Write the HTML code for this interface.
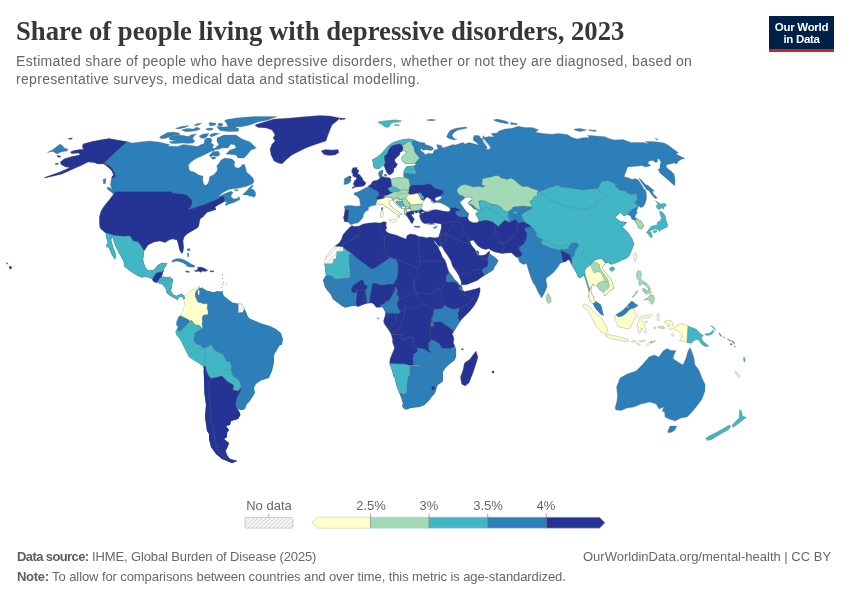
<!DOCTYPE html>
<html><head><meta charset="utf-8"><title>Share of people living with depressive disorders, 2023</title>
<style>
html,body{margin:0;padding:0;background:#fff;}
body{width:850px;height:600px;position:relative;overflow:hidden;font-family:"Liberation Sans",sans-serif;}
#title{position:absolute;left:16px;top:15.3px;font-family:"Liberation Serif",serif;font-weight:bold;font-size:26.7px;line-height:32px;color:#373737;white-space:nowrap;}
#sub{position:absolute;left:16px;top:52.4px;font-size:14px;line-height:18px;color:#666;white-space:nowrap;letter-spacing:0.31px;}
#logo{position:absolute;left:769px;top:16px;width:65px;height:33px;background:#002147;border-bottom:3px solid #ce261e;color:#fff;font-weight:bold;font-size:11.5px;line-height:12px;text-align:center;letter-spacing:-0.3px;}
#logo div{padding-top:5px;}
.ft{position:absolute;font-size:13px;line-height:16px;color:#686868;white-space:nowrap;}
.ft b{font-weight:bold;color:#5e5e5e;}
.lg{position:absolute;font-size:13px;line-height:14px;color:#666;white-space:nowrap;transform:translateX(-50%);}
svg{position:absolute;left:0;top:0;}
#title,#sub,#logo,.ft,.lg{will-change:transform;}
#map path{stroke:#6e6e6e;stroke-opacity:.6;stroke-width:.5;}
#map path.bd{fill:none;stroke-opacity:.55;stroke-width:.5;}
</style></head><body>
<div id="title">Share of people living with depressive disorders, 2023</div>
<div id="sub">Estimated share of people who have depressive disorders, whether or not they are diagnosed, based on<br>representative surveys, medical data and statistical modelling.</div>
<div id="logo"><div>Our World<br>in Data</div></div>
<svg width="850" height="600" viewBox="0 0 850 600">
<defs><pattern id="hatch" width="2.9" height="2.9" patternUnits="userSpaceOnUse" patternTransform="rotate(45)"><rect width="2.9" height="2.9" fill="#fff"/><line x1="0.7" y1="0" x2="0.7" y2="2.9" stroke="#d6d6d6" stroke-width="1.3"/></pattern><pattern id="hatch2" width="4" height="4" patternUnits="userSpaceOnUse" patternTransform="rotate(45)"><rect width="4" height="4" fill="#fff"/><line x1="1" y1="0" x2="1" y2="4" stroke="#e6e6e6" stroke-width="1.7"/></pattern></defs>
<g>
<rect x="245" y="517.5" width="48" height="10.6" rx="1" fill="url(#hatch)" stroke="#cdcdcd" stroke-width="1"/>
<line x1="268.7" y1="514" x2="268.7" y2="517.3" stroke="#888" stroke-width="0.7"/>
<path d="M312,522.7L317.6,517.2H370.5V528.2H317.6Z" fill="#ffffcc"/>
<rect x="370.5" y="517.2" width="58.6" height="11" fill="#a1dab4"/>
<rect x="429.1" y="517.2" width="58.6" height="11" fill="#41b6c4"/>
<rect x="487.7" y="517.2" width="58.6" height="11" fill="#2c7fb8"/>
<path d="M546.3,517.2H599.6L605,522.7L599.6,528.2H546.3Z" fill="#253494"/>
<path d="M312,522.7L317.6,517.2H599.6L605,522.7L599.6,528.2H317.6Z" fill="none" stroke="#bbb" stroke-width="0.5"/>
<g stroke="#6a6a6a" stroke-width="0.55"><line x1="370.5" y1="513.5" x2="370.5" y2="528.2"/><line x1="429.1" y1="513.5" x2="429.1" y2="528.2"/><line x1="487.7" y1="513.5" x2="487.7" y2="528.2"/><line x1="546.3" y1="513.5" x2="546.3" y2="528.2"/></g>
</g>
<g id="map" stroke-linejoin="round"><!-- 10_namerica.py -->
<clipPath id="cna"><path d="M127.0,141.6L132.0,143.0L140.0,142.0L150.0,141.0L153.0,141.6L154.0,141.5L160.0,142.2L165.0,143.5L169.5,144.5L168.0,146.0L172.0,146.2L178.0,146.5L183.0,144.5L188.0,145.0L194.0,146.0L198.0,146.5L200.0,145.0L204.0,143.5L204.5,140.0L206.5,138.0L210.5,138.0L212.0,140.0L211.0,143.0L214.0,145.0L212.5,147.0L214.0,149.0L219.0,144.5L222.0,142.2L226.0,142.5L227.0,144.0L224.0,146.5L220.0,149.0L216.5,149.5L210.0,152.0L206.0,154.0L202.0,156.0L197.0,158.0L193.0,160.5L190.0,163.0L188.5,165.0L189.0,169.0L190.0,171.0L194.0,172.0L199.0,175.0L203.0,176.2L202.8,180.0L203.5,184.0L205.5,185.5L208.0,183.5L209.2,180.0L209.5,176.8L214.0,174.5L217.0,171.0L217.5,168.0L216.5,166.0L218.5,164.0L221.0,160.0L225.0,158.0L232.0,159.0L235.0,162.0L234.0,165.0L235.5,167.5L239.0,168.0L241.5,166.0L242.0,164.5L244.5,164.5L246.0,169.0L246.5,172.0L250.0,175.0L253.0,178.0L254.0,181.0L253.0,183.5L250.0,185.0L246.0,186.5L242.0,187.5L237.0,188.5L233.0,188.8L229.0,189.5L224.0,192.0L220.0,195.0L218.5,196.5L220.0,196.0L225.0,193.5L230.0,191.5L232.0,191.5L233.0,193.0L231.5,194.5L231.0,197.0L234.0,199.0L237.0,198.5L239.0,196.5L240.0,199.5L234.0,202.5L229.0,204.0L226.0,205.5L225.0,204.5L227.0,202.5L224.5,201.5L221.0,203.5L218.0,205.0L215.0,207.0L216.0,209.5L213.0,210.5L210.0,211.5L207.5,212.0L205.0,214.5L203.0,217.0L200.5,218.5L199.5,221.0L199.0,225.0L199.0,225.0L198.0,227.4L192.0,231.0L187.0,234.0L184.0,237.0L183.0,241.0L183.6,247.0L183.0,252.0L181.6,253.4L179.6,250.0L178.0,243.0L177.0,240.0L173.0,239.0L170.0,239.4L165.0,242.6L160.0,241.0L154.0,242.0L148.0,245.0L144.0,251.0L143.0,260.0L145.0,267.0L148.0,270.6L154.0,270.0L158.0,265.0L162.0,263.0L167.0,263.4L167.0,263.0L166.0,266.0L164.0,268.5L163.2,271.5L162.5,274.0L161.5,276.8L165.0,277.0L169.5,277.0L172.5,279.0L173.0,281.0L172.0,284.0L171.5,288.0L170.5,290.0L172.0,293.0L173.5,295.0L176.5,296.0L179.5,294.5L182.0,294.0L184.5,296.0L185.0,298.5L183.5,299.5L182.5,297.0L180.0,296.5L178.5,298.0L177.5,300.0L175.5,298.5L173.5,297.5L172.2,296.8L170.0,295.5L167.5,293.5L166.2,292.0L166.5,290.0L165.0,287.5L163.5,285.5L161.5,284.0L158.5,283.0L156.5,282.5L154.0,282.0L152.5,280.0L152.0,279.0L149.0,277.5L145.0,276.5L142.0,277.5L140.0,276.5L138.0,276.0L130.0,271.0L124.0,266.0L124.0,262.0L119.0,253.0L115.0,245.0L112.4,236.6L111.0,240.0L113.0,247.0L116.0,255.0L115.0,259.4L112.0,255.0L109.0,248.0L106.0,246.0L108.0,242.0L106.0,237.0L106.0,233.4L100.0,228.0L99.6,225.0L99.6,225.0L99.4,217.0L101.0,211.0L105.0,205.0L110.0,199.0L114.4,193.0L112.5,192.0L111.0,191.5L112.0,189.0L110.4,185.0L111.0,181.0L112.0,176.6L113.6,175.0L113.0,174.0L112.0,171.0L109.0,168.0L104.0,164.0L98.0,164.0L94.0,162.6L88.0,162.0L82.0,165.0L72.0,169.4L62.0,174.0L45.0,178.0L44.4,177.4L60.0,172.0L70.0,167.4L66.0,167.0L61.0,164.6L60.4,162.0L64.0,159.0L72.0,156.6L80.0,155.0L79.0,153.0L71.6,153.6L70.4,152.0L74.0,150.6L80.0,149.4L83.6,149.4L82.4,147.0L83.0,144.0L92.0,141.6L100.0,140.0L109.0,138.6L120.0,140.6Z"/></clipPath><g clip-path="url(#cna)"><rect x="0" y="100" width="300" height="260" fill="#2c7fb8"/><path d="M100.0,191.5L171.5,191.5L172.5,193.0L177.0,193.6L183.0,193.9L187.0,195.0L190.0,198.0L192.0,200.0L192.0,204.0L191.0,206.5L188.4,209.4L194.0,208.0L198.0,206.3L203.0,205.0L208.0,203.0L213.0,201.0L218.5,198.5L221.0,196.5L223.6,196.2L224.6,199.0L224.2,201.5L223.3,203.2L225.0,207.0L240.0,215.0L240.0,262.0L160.0,262.0L144.0,251.0L141.0,246.0L138.0,242.0L133.0,241.0L130.0,236.0L124.0,236.6L114.0,235.4L106.0,233.0L96.0,227.0L90.0,215.0Z" fill="#253494" /><path d="M127.0,141.6L104.0,163.0L108.4,165.0L112.4,168.6L114.8,173.0L116.0,176.6L113.2,178.2L96.0,180.0L40.0,180.0L40.0,135.0L128.0,135.0Z" fill="#253494" /><path d="M96.0,227.0L106.0,233.0L114.0,235.4L124.0,236.6L130.0,236.0L133.0,241.0L138.0,242.0L141.0,246.0L144.0,251.0L165.0,256.0L240.0,256.0L240.0,360.0L90.0,360.0L90.0,235.0Z" fill="#41b6c4" /><path d="M155.0,275.0L156.0,273.0L158.5,272.5L160.5,271.5L161.5,272.5L162.5,270.8L164.0,270.5L163.5,274.0L162.2,276.8L160.0,278.0L158.5,280.5L156.5,282.8L154.0,283.0L151.8,280.0L153.5,277.0Z" fill="#253494" /></g><path d="M158.5,283.0L161.5,280.0L165.0,280.0L169.0,277.5M163.5,285.5L167.0,283.0L171.0,280.0L172.8,279.8M166.5,290.0L168.5,290.5L171.5,288.5M172.2,296.8L173.0,295.0L173.5,294.0" fill="none" stroke="#3a6f80" stroke-width="0.35"/><path d="M127.0,141.6L132.0,143.0L140.0,142.0L150.0,141.0L153.0,141.6L154.0,141.5L160.0,142.2L165.0,143.5L169.5,144.5L168.0,146.0L172.0,146.2L178.0,146.5L183.0,144.5L188.0,145.0L194.0,146.0L198.0,146.5L200.0,145.0L204.0,143.5L204.5,140.0L206.5,138.0L210.5,138.0L212.0,140.0L211.0,143.0L214.0,145.0L212.5,147.0L214.0,149.0L219.0,144.5L222.0,142.2L226.0,142.5L227.0,144.0L224.0,146.5L220.0,149.0L216.5,149.5L210.0,152.0L206.0,154.0L202.0,156.0L197.0,158.0L193.0,160.5L190.0,163.0L188.5,165.0L189.0,169.0L190.0,171.0L194.0,172.0L199.0,175.0L203.0,176.2L202.8,180.0L203.5,184.0L205.5,185.5L208.0,183.5L209.2,180.0L209.5,176.8L214.0,174.5L217.0,171.0L217.5,168.0L216.5,166.0L218.5,164.0L221.0,160.0L225.0,158.0L232.0,159.0L235.0,162.0L234.0,165.0L235.5,167.5L239.0,168.0L241.5,166.0L242.0,164.5L244.5,164.5L246.0,169.0L246.5,172.0L250.0,175.0L253.0,178.0L254.0,181.0L253.0,183.5L250.0,185.0L246.0,186.5L242.0,187.5L237.0,188.5L233.0,188.8L229.0,189.5L224.0,192.0L220.0,195.0L218.5,196.5L220.0,196.0L225.0,193.5L230.0,191.5L232.0,191.5L233.0,193.0L231.5,194.5L231.0,197.0L234.0,199.0L237.0,198.5L239.0,196.5L240.0,199.5L234.0,202.5L229.0,204.0L226.0,205.5L225.0,204.5L227.0,202.5L224.5,201.5L221.0,203.5L218.0,205.0L215.0,207.0L216.0,209.5L213.0,210.5L210.0,211.5L207.5,212.0L205.0,214.5L203.0,217.0L200.5,218.5L199.5,221.0L199.0,225.0L199.0,225.0L198.0,227.4L192.0,231.0L187.0,234.0L184.0,237.0L183.0,241.0L183.6,247.0L183.0,252.0L181.6,253.4L179.6,250.0L178.0,243.0L177.0,240.0L173.0,239.0L170.0,239.4L165.0,242.6L160.0,241.0L154.0,242.0L148.0,245.0L144.0,251.0L143.0,260.0L145.0,267.0L148.0,270.6L154.0,270.0L158.0,265.0L162.0,263.0L167.0,263.4L167.0,263.0L166.0,266.0L164.0,268.5L163.2,271.5L162.5,274.0L161.5,276.8L165.0,277.0L169.5,277.0L172.5,279.0L173.0,281.0L172.0,284.0L171.5,288.0L170.5,290.0L172.0,293.0L173.5,295.0L176.5,296.0L179.5,294.5L182.0,294.0L184.5,296.0L185.0,298.5L183.5,299.5L182.5,297.0L180.0,296.5L178.5,298.0L177.5,300.0L175.5,298.5L173.5,297.5L172.2,296.8L170.0,295.5L167.5,293.5L166.2,292.0L166.5,290.0L165.0,287.5L163.5,285.5L161.5,284.0L158.5,283.0L156.5,282.5L154.0,282.0L152.5,280.0L152.0,279.0L149.0,277.5L145.0,276.5L142.0,277.5L140.0,276.5L138.0,276.0L130.0,271.0L124.0,266.0L124.0,262.0L119.0,253.0L115.0,245.0L112.4,236.6L111.0,240.0L113.0,247.0L116.0,255.0L115.0,259.4L112.0,255.0L109.0,248.0L106.0,246.0L108.0,242.0L106.0,237.0L106.0,233.4L100.0,228.0L99.6,225.0L99.6,225.0L99.4,217.0L101.0,211.0L105.0,205.0L110.0,199.0L114.4,193.0L112.5,192.0L111.0,191.5L112.0,189.0L110.4,185.0L111.0,181.0L112.0,176.6L113.6,175.0L113.0,174.0L112.0,171.0L109.0,168.0L104.0,164.0L98.0,164.0L94.0,162.6L88.0,162.0L82.0,165.0L72.0,169.4L62.0,174.0L45.0,178.0L44.4,177.4L60.0,172.0L70.0,167.4L66.0,167.0L61.0,164.6L60.4,162.0L64.0,159.0L72.0,156.6L80.0,155.0L79.0,153.0L71.6,153.6L70.4,152.0L74.0,150.6L80.0,149.4L83.6,149.4L82.4,147.0L83.0,144.0L92.0,141.6L100.0,140.0L109.0,138.6L120.0,140.6Z" fill="none"/>
<!-- 11_naislands.py -->
<path d="M159.5,137.0L163.0,135.0L167.5,132.5L173.5,132.0L179.0,133.0L180.0,134.5L174.0,135.5L169.5,137.0L165.0,138.5L161.0,138.8Z" fill="#2c7fb8"/><path d="M169.0,138.0L171.5,136.0L178.0,135.0L184.0,135.5L188.0,136.5L192.0,134.5L196.5,134.0L194.0,136.0L192.5,139.0L195.0,141.0L193.0,143.0L188.0,143.5L183.0,143.0L177.0,143.5L171.5,143.5L169.0,142.0L176.0,140.5L170.0,140.0Z" fill="#2c7fb8"/><path d="M175.5,128.5L181.0,126.5L189.0,125.5L185.0,127.5L179.0,129.0Z" fill="#2c7fb8"/><path d="M181.5,130.0L187.0,128.5L194.0,129.0L195.5,127.5L198.0,127.5L200.5,129.0L197.0,130.5L190.0,131.5L185.0,131.5Z" fill="#2c7fb8"/><path d="M194.0,125.0L198.0,123.5L201.5,123.3L199.0,125.0L195.5,125.8Z" fill="#2c7fb8"/><path d="M208.5,123.0L211.0,122.5L215.5,123.5L214.0,124.8L210.0,124.2Z" fill="#2c7fb8"/><path d="M205.5,129.0L209.0,128.0L213.5,128.2L212.0,130.0L208.0,130.5Z" fill="#2c7fb8"/><path d="M217.5,124.0L220.5,123.0L222.5,125.0L219.0,125.5Z" fill="#2c7fb8"/><path d="M199.0,136.0L203.0,134.0L209.0,133.5L207.0,136.5L204.0,138.5L201.0,138.0Z" fill="#2c7fb8"/><path d="M209.5,135.0L214.0,133.0L219.5,133.5L215.0,135.5L211.0,137.0Z" fill="#2c7fb8"/><path d="M224.5,121.0L229.0,119.5L235.0,119.5L237.0,125.0L235.0,131.0L228.0,131.5L220.0,130.5L216.5,126.5L222.0,126.5L224.0,128.5L229.0,127.5L227.0,125.0L227.5,123.0Z" fill="#2c7fb8"/><path d="M209.0,155.5L213.5,151.0L216.5,153.0L220.0,155.0L217.0,156.5L213.0,155.5L211.0,157.0Z" fill="#2c7fb8"/><path d="M212.0,158.5L215.5,157.5L215.0,158.5L212.5,159.2Z" fill="#2c7fb8"/><path d="M217.0,138.0L224.0,135.0L236.0,135.0L242.0,139.0L250.0,142.0L256.4,148.0L251.0,150.0L247.0,155.0L244.0,158.0L238.0,158.0L236.0,155.0L226.0,154.0L230.0,150.0L236.0,148.0L235.0,145.0L231.0,144.0L228.0,148.0L222.0,148.0L217.0,142.0Z" fill="#2c7fb8"/><path d="M225.0,120.0L236.0,118.0L254.0,116.4L277.0,116.4L268.0,120.0L258.0,122.0L250.0,125.0L240.0,127.0L230.0,126.0L226.0,123.0Z" fill="#2c7fb8"/><path d="M218.0,127.4L228.0,126.6L239.0,128.6L238.0,131.4L228.0,131.0L220.0,130.0Z" fill="#2c7fb8"/><path d="M209.0,124.0L215.0,123.0L216.0,125.0L210.0,126.0Z" fill="#2c7fb8"/><path d="M218.0,124.0L222.4,123.4L223.0,125.4L219.0,126.0Z" fill="#2c7fb8"/><path d="M213.0,152.0L218.0,151.0L220.0,154.0L215.0,155.0Z" fill="#2c7fb8"/><path d="M211.0,157.4L215.0,156.6L215.6,158.6L212.0,159.0Z" fill="#2c7fb8"/><path d="M242.5,194.5L245.5,192.0L249.0,188.0L252.5,185.0L253.5,185.5L251.0,188.5L254.0,190.0L255.5,192.5L255.5,196.0L253.5,197.5L252.0,196.0L250.0,196.5L247.5,195.0L244.5,195.0Z" fill="#2c7fb8"/><path d="M234.0,189.5L238.5,190.0L238.0,191.0L234.5,190.5Z" fill="#2c7fb8"/><path d="M106.5,188.0L109.0,187.0L112.5,189.5L114.5,192.0L113.5,195.0L112.0,192.5L109.5,191.0Z" fill="#2c7fb8"/><path d="M103.0,179.4L106.0,178.6L105.6,183.4L103.6,184.0Z" fill="#2c7fb8"/><path d="M256.0,124.4L264.0,122.0L274.0,119.0L290.0,118.0L306.0,116.6L320.0,115.4L330.0,116.0L340.0,118.0L337.0,121.0L332.0,125.0L330.0,130.0L328.0,135.0L326.0,141.0L314.0,145.0L306.0,148.0L300.0,151.0L292.0,155.0L286.0,160.0L282.0,164.0L278.0,163.0L274.0,161.0L271.0,155.0L270.0,149.0L272.0,144.0L275.0,141.0L273.0,138.0L275.0,135.0L272.0,130.0L266.0,128.0L258.0,127.4L255.0,125.6Z" fill="#253494"/><path d="M339.5,118.0L345.5,118.3L345.0,119.2L340.0,120.0Z" fill="#253494"/><path d="M321.0,151.0L325.0,149.4L332.0,150.0L338.0,149.4L339.0,152.6L335.0,155.0L329.0,155.6L324.0,154.6Z" fill="#253494"/><path d="M47.4,152.4L53.0,149.4L60.0,144.0L63.0,146.0L64.0,148.0L68.0,149.0L67.0,151.0L61.0,152.0L57.0,154.0L53.0,151.4Z" fill="#2c7fb8"/><path d="M68.0,138.6L72.4,137.8L72.0,139.0L69.0,139.6Z" fill="#253494"/><path d="M55.0,163.4L58.4,163.0L58.0,164.6L55.6,164.6Z" fill="#253494"/><path d="M57.0,155.4L61.0,156.0L60.0,157.4L57.6,157.0Z" fill="#253494"/><path d="M9.0,266.6L11.0,266.0L12.0,268.0L10.0,269.4Z" fill="#253494"/><path d="M5.6,262.6L7.2,263.0L8.4,264.2L7.0,264.0Z" fill="#253494"/><path d="M171.5,261.2L174.0,259.5L177.5,258.5L181.0,258.8L184.5,260.0L188.0,262.0L191.0,264.0L194.8,265.5L194.2,267.3L190.0,267.1L187.3,266.6L186.0,264.7L183.6,263.2L180.0,261.7L176.0,261.1L173.0,262.2Z" fill="#2c7fb8"/><path d="M185.0,271.0L187.5,270.7L189.8,271.5L189.0,272.5L186.0,272.2Z" fill="#2c7fb8"/><path d="M194.0,270.5L197.0,270.0L198.0,268.0L197.0,267.2L201.0,267.0L204.0,268.0L206.5,269.5L208.0,270.5L205.5,271.5L202.0,271.2L200.5,272.5L199.0,271.2L196.0,271.8Z" fill="#253494"/><path d="M210.0,270.8L213.8,270.8L213.8,271.8L210.2,272.0Z" fill="#253494"/><path d="M187.0,253.5L188.5,253.0L189.0,256.5L187.8,256.8Z" fill="#2c7fb8"/><path d="M187.0,249.0L190.0,248.6L190.0,250.6L187.6,251.0Z" fill="#2c7fb8"/>
<!-- 20_samerica.py -->
<clipPath id="csa"><path d="M184.5,296.2L188.5,294.0L190.0,290.5L192.5,289.5L195.0,289.2L197.0,287.5L199.0,286.2L200.0,287.0L199.5,288.5L202.2,287.2L203.0,288.5L205.0,289.2L207.0,290.7L210.0,291.2L213.0,292.2L215.0,291.7L217.0,291.0L221.0,291.5L222.2,290.6L223.8,295.8L228.4,299.6L232.8,302.8L238.0,303.4L241.2,304.4L244.0,308.0L246.0,311.8L247.6,316.0L249.6,318.6L255.0,320.8L260.0,323.0L270.0,326.0L276.0,329.0L281.0,333.0L283.0,339.0L282.0,345.0L280.0,345.0L274.0,355.0L274.0,363.0L272.0,371.0L269.0,378.0L261.0,380.6L256.0,384.0L254.0,388.0L255.0,393.0L250.0,401.0L247.0,404.0L245.0,409.0L242.0,410.0L237.0,409.0L239.0,411.0L240.4,415.0L238.0,419.0L231.0,421.0L230.0,425.0L226.0,426.0L229.0,430.0L227.0,433.0L227.0,437.0L224.0,439.0L229.0,443.0L228.0,446.0L225.6,451.0L227.0,455.0L230.0,459.0L237.0,461.0L232.0,463.0L227.0,461.0L222.0,459.0L216.0,454.0L211.0,447.0L209.0,439.0L209.0,434.0L207.0,431.0L205.0,417.0L206.0,405.0L204.4,393.0L204.0,379.0L203.6,369.0L204.0,370.0L203.5,367.0L200.0,364.0L195.0,361.0L189.0,357.0L186.5,352.0L183.0,345.0L180.0,339.0L176.5,335.0L175.5,331.5L178.0,327.0L176.2,325.0L176.5,322.0L178.5,317.0L181.0,314.5L183.5,310.0L183.6,309.0L184.4,304.0L185.0,300.0L185.0,298.5Z"/></clipPath><g clip-path="url(#csa)"><rect x="170" y="280" width="130" height="200" fill="#2c7fb8"/><path d="M180.0,297.0L188.0,288.0L200.0,284.0L199.8,287.8L199.0,288.0L196.0,291.0L195.0,294.0L195.5,297.0L196.5,299.0L197.0,301.0L198.5,302.5L201.5,303.0L204.0,304.0L207.0,303.5L207.5,305.0L207.0,308.0L207.5,310.0L208.0,310.0L208.0,314.5L203.5,315.0L202.0,318.0L202.5,321.0L202.0,324.0L202.5,327.0L202.0,329.5L201.0,327.0L199.0,325.5L195.0,325.0L193.5,323.0L191.5,320.5L189.5,321.5L189.0,320.0L185.0,318.0L181.0,316.0L175.0,314.0L175.0,306.0Z" fill="#ffffcc" /><path d="M171.0,331.5L177.5,329.5L180.0,331.5L183.5,328.0L186.5,325.0L189.5,321.5L191.5,320.5L193.5,323.0L195.0,325.0L199.0,325.5L201.0,327.0L200.5,330.0L197.0,331.5L194.5,333.5L195.0,336.0L193.5,338.5L194.5,342.0L197.0,344.5L200.5,345.0L202.0,347.5L204.5,348.0L208.0,346.5L212.0,344.5L213.0,348.0L215.0,350.5L219.0,352.5L223.5,354.5L225.0,358.0L226.0,361.0L230.0,362.0L231.5,366.0L232.0,365.0L231.0,370.0L233.0,376.0L238.0,379.0L240.4,383.0L241.0,387.0L238.0,391.0L233.0,390.0L233.6,385.0L228.0,382.0L223.0,377.0L221.6,376.0L218.0,377.0L211.0,378.6L208.0,375.0L205.6,366.6L205.5,366.0L203.5,367.5L195.0,366.0L175.0,340.0Z" fill="#41b6c4" /><path d="M202.0,367.5L205.5,366.0L206.0,370.0L208.0,375.0L211.0,378.6L218.0,377.0L221.6,376.0L223.0,377.0L228.0,382.0L233.6,385.0L233.0,390.0L238.0,391.0L242.4,388.0L237.0,397.4L235.6,404.0L237.0,409.0L254.0,411.0L254.0,469.0L190.0,469.0L190.0,365.0Z" fill="#253494" /></g><path d="M197.7,290.5L198.7,289.5L199.7,292.0L199.2,295.0L198.0,295.0Z" fill="#fff"/><path d="M238.0,303.0L241.4,304.0L244.4,308.0L242.8,312.2L238.0,312.8L238.4,308.0Z" fill="url(#hatch2)" stroke="#bbb" stroke-width="0.3"/><path d="M225.0,456.0L230.0,459.0L237.0,461.0L232.0,463.0L227.0,461.0Z" fill="#253494"/><path d="M211.0,378.6L209.0,385.0L209.0,397.0L211.0,411.0L211.0,421.0L214.0,433.0L216.0,445.0L220.0,454.0L225.0,457.0" fill="none" stroke="#5a62a8" stroke-width="0.4"/><path d="M204.5,348.0L205.0,352.0L205.5,357.0L205.0,362.0L205.5,366.0" fill="none" stroke="#3a8a98" stroke-width="0.4"/><path d="M222.4,371.0L225.0,369.0L231.0,370.0" fill="none" stroke="#3a8a98" stroke-width="0.4"/><path d="M237.0,397.4L246.0,404.0" fill="none" stroke="#2a5a8a" stroke-width="0.4"/><path d="M176.5,322.0L178.5,317.0L181.0,316.0L185.0,318.0L189.0,320.0L189.5,321.5L186.5,325.0L183.5,328.0L180.0,331.5L177.5,329.5" fill="none" stroke="#2a5a8a" stroke-width="0.4"/><path d="M223.8,297.5L221.6,302.8L223.2,305.4L224.3,307.5" fill="none" stroke="#2a5a8a" stroke-width="0.35"/><path d="M207.9,313.9L210.5,317.1L213.7,315.5L216.4,313.4L214.2,311.2L214.8,308.6L219.0,308.1L223.2,307.0L224.3,307.5L224.8,311.8L226.4,314.9L229.6,315.5L232.2,313.9L234.9,312.8L238.1,311.8" fill="none" stroke="#2a5a8a" stroke-width="0.35"/><path d="M229.1,302.8L230.1,305.4L229.1,307.5L231.2,311.8L232.2,313.9" fill="none" stroke="#2a5a8a" stroke-width="0.35"/>
<!-- 30_africa.py -->
<clipPath id="caf"><path d="M343.0,234.5L347.0,230.0L350.0,227.0L352.0,225.5L354.0,226.5L359.0,226.0L363.0,224.0L369.0,223.0L375.0,222.5L380.0,223.0L384.0,221.5L386.5,222.5L386.0,225.5L387.0,228.0L385.5,230.0L387.0,232.0L390.0,233.5L396.0,235.0L401.0,237.0L406.0,239.0L407.0,235.5L410.0,234.0L415.0,234.5L419.0,236.5L425.0,237.0L425.0,238.0L430.0,237.0L434.0,237.8L434.5,241.5L436.0,243.5L438.0,246.0L439.0,249.0L441.0,253.0L442.5,257.0L445.0,260.0L446.5,264.0L447.5,268.0L449.0,272.0L451.5,275.0L454.0,279.0L457.5,282.0L459.5,285.0L461.0,285.0L462.5,288.0L462.0,290.0L464.5,291.5L469.0,290.5L475.0,289.0L480.0,287.5L480.2,291.0L479.0,296.0L477.0,301.0L474.0,306.0L470.0,311.0L466.0,315.0L462.0,319.0L459.0,323.0L456.5,327.0L454.0,331.0L452.0,335.0L453.0,335.0L454.0,339.0L453.5,343.0L455.0,346.5L456.0,351.0L456.0,356.0L454.5,360.0L450.0,363.5L446.0,367.0L442.5,372.0L443.0,377.0L442.5,381.0L442.0,382.0L438.0,384.5L436.5,387.0L436.0,390.0L434.5,393.5L431.0,397.5L428.0,401.5L424.0,405.0L419.0,407.0L414.5,407.2L410.0,408.0L406.5,409.5L404.0,408.5L402.5,406.5L403.0,403.0L401.5,398.0L399.5,393.0L397.0,387.0L395.5,381.0L394.0,375.0L394.0,377.0L392.0,370.0L389.5,363.5L390.0,359.0L392.0,354.0L394.5,348.0L392.5,342.5L392.5,339.0L391.0,334.0L388.0,329.0L385.0,325.0L383.5,322.0L384.0,319.0L385.0,316.0L385.5,312.5L384.0,309.0L382.0,306.8L379.0,307.5L376.0,307.2L374.0,304.5L372.0,303.0L367.0,303.2L363.0,304.5L358.5,306.5L354.0,305.5L349.0,306.5L345.0,307.5L341.5,305.5L337.0,302.0L333.0,299.0L331.0,294.5L328.0,291.0L325.0,287.0L324.5,284.0L323.0,280.5L325.0,277.0L326.0,276.0L325.5,270.0L324.5,263.5L326.0,258.0L329.0,253.0L331.5,249.5L334.5,246.5L339.5,242.5L341.5,239.0Z"/></clipPath><g clip-path="url(#caf)"><rect x="315" y="220" width="175" height="200" fill="#253494"/><path d="M326.0,276.0L330.0,275.5L333.0,277.0L335.5,279.5L338.0,279.0L350.5,278.0L349.0,254.5L352.0,254.0L360.0,260.5L371.5,269.0L375.0,268.0L390.0,257.8L396.0,259.5L397.5,264.0L398.0,272.0L397.0,278.0L394.5,282.0L393.5,284.0L389.0,284.0L384.0,285.0L379.0,284.5L374.5,283.0L372.0,284.0L371.5,290.0L370.0,295.0L369.5,302.5L369.5,309.0L318.0,309.0L318.0,279.0Z" fill="#2c7fb8" /><path d="M351.0,290.0L353.0,285.5L357.5,282.5L361.0,280.0L363.5,280.5L364.5,284.5L367.0,285.5L368.0,287.0L366.0,289.0L365.5,291.5L366.2,295.0L367.0,304.0L363.0,305.0L358.5,307.0L356.0,305.0L356.0,300.0L357.0,295.0L356.5,290.5L356.0,293.0L352.0,292.5Z" fill="#253494" /><path d="M324.5,263.5L332.8,263.2L333.2,259.0L336.0,258.2L336.5,251.5L343.2,251.0L343.2,247.5L352.0,254.0L349.0,254.5L350.5,278.0L338.0,279.0L335.5,279.5L333.0,277.0L330.0,275.5L326.0,276.0L320.0,276.0L320.0,263.5Z" fill="#41b6c4" /><path d="M334.5,247.0L343.0,247.2L343.2,251.0L336.5,251.5L336.0,258.2L333.2,259.0L332.8,263.2L324.5,263.4L320.0,263.4L320.0,255.0L330.0,245.0Z" fill="url(#hatch2)" /><path d="M395.5,287.0L397.0,289.5L397.5,293.0L396.0,293.5L398.0,296.5L399.0,299.5L397.0,303.0L397.5,307.0L400.0,311.0L399.0,313.5L394.0,313.0L385.5,312.8L383.0,312.5L380.0,309.0L380.0,305.0L383.0,304.5L386.0,301.5L389.0,300.5L392.0,296.0L394.5,291.0Z" fill="#2c7fb8" /><path d="M446.0,277.0L447.5,274.0L450.0,272.3L454.0,273.0L466.0,286.0L461.0,285.0L459.5,285.5L456.0,282.5L452.0,281.2L449.0,282.0L446.5,281.7Z" fill="#2c7fb8" /><path d="M459.0,287.5L461.0,286.0L465.0,287.0L464.5,291.5L461.8,290.2L459.5,290.0Z" fill="#2c7fb8" /><path d="M434.0,309.5L438.0,309.0L442.2,308.5L444.5,305.0L448.0,307.5L454.0,309.5L457.0,308.5L459.5,308.5L458.0,313.0L458.2,319.0L461.0,322.0L459.0,327.0L455.0,333.0L453.5,331.0L450.0,328.0L445.0,324.5L441.5,321.5L441.0,321.5L435.0,322.0L431.5,322.5L431.8,319.0L433.5,315.0Z" fill="#2c7fb8" /><path d="M430.5,323.0L433.0,322.8L433.5,325.5L431.2,326.5Z" fill="#2c7fb8" /><path d="M417.5,348.0L424.0,349.0L428.0,351.5L430.5,353.0L431.0,351.5L429.0,350.5L428.5,343.0L431.0,340.5L434.0,340.5L439.0,343.5L442.0,348.5L450.0,348.5L455.5,346.5L470.0,346.5L470.0,435.0L390.0,435.0L399.5,393.5L401.5,394.5L405.0,394.8L407.0,392.8L407.0,388.0L407.5,381.0L408.0,375.0L408.0,377.0L410.0,375.0L410.0,366.5L414.5,366.2L419.0,366.2L420.0,365.0L415.0,364.8L413.5,365.0L413.0,360.0L413.5,354.0L417.5,352.0Z" fill="#2c7fb8" /><path d="M389.5,363.5L405.0,364.0L410.0,365.5L415.0,364.8L420.0,365.0L419.0,366.2L414.5,366.2L410.0,366.5L410.0,375.0L408.0,377.0L407.5,385.0L407.5,381.0L407.0,388.0L407.0,392.5L405.0,394.5L401.5,394.0L399.5,393.0L390.0,393.0L390.0,375.0L380.0,375.0L380.0,363.5Z" fill="#41b6c4" /><path d="M431.5,387.5L433.0,386.2L434.8,387.0L434.8,389.5L433.0,390.2L431.7,389.2Z" fill="#253494" /></g><path d="M476.0,351.0L478.0,357.0L476.0,364.0L473.0,373.0L469.0,383.0L465.0,386.0L461.6,384.0L460.4,377.0L463.0,370.0L464.4,363.0L470.0,359.0L473.6,354.0Z" fill="#253494" /><path d="M492.0,371.0L494.0,371.0L494.0,373.0L492.0,373.0Z" fill="#253494" /><path d="M461.6,348.6L463.2,348.6L463.2,350.0L461.6,350.0Z" fill="#253494" /><path d="M377.5,317.8L379.0,317.8L379.0,319.0L377.5,319.0Z" fill="#41b6c4" /><path d="M343.0,234.5L347.0,230.0L350.0,227.0L352.0,225.5L354.0,226.5L359.0,226.0L363.0,224.0L369.0,223.0L375.0,222.5L380.0,223.0L384.0,221.5L386.5,222.5L386.0,225.5L387.0,228.0L385.5,230.0L387.0,232.0L390.0,233.5L396.0,235.0L401.0,237.0L406.0,239.0L407.0,235.5L410.0,234.0L415.0,234.5L419.0,236.5L425.0,237.0L425.0,238.0L430.0,237.0L434.0,237.8L434.5,241.5L436.0,243.5L438.0,246.0L439.0,249.0L441.0,253.0L442.5,257.0L445.0,260.0L446.5,264.0L447.5,268.0L449.0,272.0L451.5,275.0L454.0,279.0L457.5,282.0L459.5,285.0L461.0,285.0L462.5,288.0L462.0,290.0L464.5,291.5L469.0,290.5L475.0,289.0L480.0,287.5L480.2,291.0L479.0,296.0L477.0,301.0L474.0,306.0L470.0,311.0L466.0,315.0L462.0,319.0L459.0,323.0L456.5,327.0L454.0,331.0L452.0,335.0L453.0,335.0L454.0,339.0L453.5,343.0L455.0,346.5L456.0,351.0L456.0,356.0L454.5,360.0L450.0,363.5L446.0,367.0L442.5,372.0L443.0,377.0L442.5,381.0L442.0,382.0L438.0,384.5L436.5,387.0L436.0,390.0L434.5,393.5L431.0,397.5L428.0,401.5L424.0,405.0L419.0,407.0L414.5,407.2L410.0,408.0L406.5,409.5L404.0,408.5L402.5,406.5L403.0,403.0L401.5,398.0L399.5,393.0L397.0,387.0L395.5,381.0L394.0,375.0L394.0,377.0L392.0,370.0L389.5,363.5L390.0,359.0L392.0,354.0L394.5,348.0L392.5,342.5L392.5,339.0L391.0,334.0L388.0,329.0L385.0,325.0L383.5,322.0L384.0,319.0L385.0,316.0L385.5,312.5L384.0,309.0L382.0,306.8L379.0,307.5L376.0,307.2L374.0,304.5L372.0,303.0L367.0,303.2L363.0,304.5L358.5,306.5L354.0,305.5L349.0,306.5L345.0,307.5L341.5,305.5L337.0,302.0L333.0,299.0L331.0,294.5L328.0,291.0L325.0,287.0L324.5,284.0L323.0,280.5L325.0,277.0L326.0,276.0L325.5,270.0L324.5,263.5L326.0,258.0L329.0,253.0L331.5,249.5L334.5,246.5L339.5,242.5L341.5,239.0Z" fill="none"/><g clip-path="url(#caf)"><path class="bd" d="M359.0,226.0L359.5,229.0L360.5,232.5L359.5,234.5L355.0,237.5L353.0,240.0"/><path class="bd" d="M343.0,247.0L343.5,243.5L350.0,241.0L355.0,236.5L357.0,235.0"/><path class="bd" d="M381.0,225.0L379.5,230.0L382.0,234.0L384.5,237.5L384.5,243.0L384.0,251.0L386.0,255.0L390.0,257.5"/><path class="bd" d="M384.5,237.5L386.5,234.5L388.5,232.8"/><path class="bd" d="M390.0,257.5L396.5,259.2L417.0,267.5L420.0,267.0"/><path class="bd" d="M418.0,237.0L419.0,245.0L419.5,255.0L419.8,261.0L420.0,267.0"/><path class="bd" d="M419.8,261.2L445.5,261.2"/><path class="bd" d="M396.5,259.5L398.5,265.0L398.0,272.0L395.0,278.0L394.5,282.0L396.5,285.0"/><path class="bd" d="M417.0,267.5L418.0,272.0L417.0,278.0L414.0,279.5L413.5,285.0"/><path class="bd" d="M414.0,280.0L413.5,285.0L415.5,289.5L414.0,290.5L411.0,294.0L407.0,295.5L403.0,298.0L398.5,299.0"/><path class="bd" d="M396.5,287.5L398.0,292.5L398.5,299.0L397.0,303.0L397.5,307.0L400.0,311.0L399.5,313.5"/><path class="bd" d="M415.5,289.5L416.5,295.0L419.5,293.0L422.0,292.0L425.0,294.0L429.0,294.5L433.0,292.5L436.0,290.0L437.0,287.5L439.0,288.0L440.0,292.0L443.0,287.0L445.5,282.0L446.0,280.0"/><path class="bd" d="M416.5,295.0L420.0,299.0L423.0,302.5L425.5,305.0L422.0,305.0L418.0,306.5L414.0,308.5L411.0,307.5L407.5,306.2L405.5,307.0L405.0,309.5L402.0,310.0L400.0,311.0"/><path class="bd" d="M425.5,305.0L427.5,307.0L432.0,307.5L434.0,309.5L442.0,309.0L444.5,304.8"/><path class="bd" d="M440.0,292.0L441.0,296.0L439.0,298.5L442.0,302.0L444.5,304.5"/><path class="bd" d="M385.0,313.5L393.0,313.2L399.5,313.5"/><path class="bd" d="M385.0,316.5L389.0,316.5L389.0,313.5"/><path class="bd" d="M393.0,313.5L395.0,315.0L396.0,320.0L396.5,323.0L394.5,325.5L391.5,324.5L389.5,327.0L389.0,329.0L391.5,331.5"/><path class="bd" d="M405.0,309.5L404.5,314.0L403.5,319.0L401.0,323.0L399.5,327.0L398.0,330.5L395.5,332.0L391.5,332.0"/><path class="bd" d="M391.5,334.5L400.0,334.5L402.0,338.0L403.0,340.0L406.0,338.5L409.0,337.0L413.0,339.0"/><path class="bd" d="M434.0,309.5L433.0,314.0L431.5,318.5L431.0,322.5L430.0,327.0L430.5,332.0L430.0,336.0L431.5,340.0"/><path class="bd" d="M442.0,309.0L443.5,312.0L443.0,316.0L441.5,319.5L441.2,321.5L431.2,322.0"/><path class="bd" d="M441.2,321.5L446.0,324.5L450.0,327.5L452.5,331.0"/><path class="bd" d="M430.5,323.2L434.0,323.0L434.0,327.0L431.5,330.0"/><path class="bd" d="M430.5,326.5L434.0,326.8"/><path class="bd" d="M459.5,308.5L462.0,307.0L466.0,305.0L470.0,302.0L473.0,298.5L469.0,296.5L464.0,294.5L461.5,291.5L461.8,290.2"/><path class="bd" d="M371.5,269.0L372.0,274.5L370.0,278.0L364.0,279.5"/><path class="bd" d="M336.0,280.0L336.0,284.0L337.5,287.0L341.0,286.5L343.5,289.0L345.0,292.5"/><path class="bd" d="M345.0,292.5L350.0,292.0L351.0,290.0"/><path class="bd" d="M325.0,287.0L330.0,286.0L335.0,287.0L336.0,284.0"/><path class="bd" d="M328.0,291.0L332.0,290.0L335.0,292.0L338.0,296.5L337.0,302.0"/><path class="bd" d="M333.0,299.0L335.0,295.5L338.0,296.5L341.5,294.0L345.0,292.5"/><path class="bd" d="M341.5,305.5L343.0,300.0L341.5,297.5L338.0,296.5"/><path class="bd" d="M324.5,284.0L329.0,283.5L333.0,282.0"/><path class="bd" d="M325.0,285.5L329.5,285.0"/><path class="bd" d="M364.0,290.5L364.5,294.0L364.0,298.5L364.5,302.5"/><path class="bd" d="M356.5,290.5L364.0,290.5"/><path class="bd" d="M392.0,334.2L400.5,334.5L402.5,339.0L405.0,339.5L409.0,337.0L413.0,338.0L413.5,347.0L417.5,348.0"/><path class="bd" d="M420.0,365.0L424.0,365.0L427.0,362.0L430.0,360.0L433.0,357.0L437.5,355.5L439.0,353.0L440.0,348.0L439.0,343.5"/><path class="bd" d="M441.5,345.0L442.0,349.0L442.5,353.0L444.5,356.0L444.0,361.0L442.0,362.5L441.0,359.0L439.0,356.0L440.0,352.0"/><path class="bd" d="M433.0,357.0L436.0,358.0L438.0,362.0L437.5,368.0L436.0,372.0L433.5,376.0L433.0,377.0"/><path class="bd" d="M420.0,365.0L421.0,369.0L424.0,372.0L427.0,375.5L430.0,377.0L433.0,377.0"/><path class="bd" d="M409.0,389.5L413.0,387.0L415.5,385.0L419.0,386.0L422.0,383.0L425.0,379.0L429.0,376.5L433.0,377.0L434.0,381.0L434.5,386.0"/><path class="bd" d="M423.0,396.5L426.0,393.5L428.5,395.5L425.5,399.0Z"/></g><path d="M334.5,246.4L343.0,247.1L343.2,251.0L336.5,251.5L336.0,258.2L333.2,259.0L332.8,263.3L324.4,263.6L325.9,258.0L328.9,253.0L331.4,249.5Z" fill="url(#hatch2)" style="stroke:#ccc;stroke-opacity:.8"/>
<!-- 40_eurasia.py -->
<clipPath id="cea"><path d="M397.0,141.0L403.0,139.5L409.0,138.8L414.0,139.8L419.0,142.0L425.0,143.0L425.0,144.5L429.0,145.5L433.0,147.5L433.5,149.5L431.0,150.5L427.0,150.0L425.0,149.7L423.0,148.5L421.0,148.5L420.5,150.0L422.0,151.5L424.5,153.2L425.0,155.0L428.0,153.2L432.5,153.7L433.5,152.0L434.5,150.0L438.0,149.0L436.5,144.5L441.5,145.5L442.5,148.0L446.0,147.0L453.0,144.5L455.0,145.0L463.0,142.5L465.0,144.0L469.0,142.5L475.0,144.0L479.0,145.0L477.0,143.0L473.0,140.0L474.0,135.5L479.0,135.5L481.0,138.5L482.5,138.5L485.0,141.0L487.5,144.5L490.0,146.5L489.0,149.0L486.5,149.5L487.5,147.0L485.0,143.5L483.0,140.0L483.0,135.5L485.0,137.5L489.0,136.5L494.0,137.0L491.0,133.5L497.0,133.0L499.0,131.0L505.0,129.0L505.0,129.1L512.1,128.3L517.9,126.2L525.0,127.4L532.1,127.4L538.5,129.7L535.6,132.3L542.6,133.5L552.1,134.2L557.9,133.5L567.4,134.6L572.1,137.4L577.4,139.1L582.6,137.7L589.7,137.4L587.4,135.4L590.9,135.4L605.0,136.8L610.0,139.0L615.0,140.0L623.0,139.5L627.0,141.0L631.0,142.5L638.0,142.5L644.0,142.5L648.5,144.0L645.5,141.5L652.0,141.5L658.0,142.0L664.0,143.0L668.0,145.0L672.0,148.0L676.0,151.0L678.5,152.5L676.0,154.0L679.0,155.5L683.0,157.5L685.0,158.5L681.0,159.5L678.0,161.5L677.0,164.0L674.0,163.0L670.0,164.0L666.0,165.0L667.0,168.0L671.0,171.0L674.0,174.0L675.0,179.0L675.0,183.0L674.8,186.0L672.0,183.5L668.0,180.0L664.0,176.5L660.0,173.0L658.0,169.5L660.0,168.5L660.0,165.0L661.0,162.0L659.0,159.0L657.5,159.0L657.5,162.0L655.5,162.5L653.0,160.5L649.0,161.0L648.0,163.5L651.0,165.5L648.0,166.5L645.0,167.0L642.0,165.5L639.0,166.0L633.0,166.5L627.5,167.0L626.0,172.0L624.0,176.5L629.0,178.0L632.0,179.5L635.0,178.5L638.5,180.0L641.0,184.0L643.0,187.0L644.5,190.0L645.0,189.0L646.5,194.0L646.5,199.0L645.0,204.0L643.0,207.0L640.5,207.5L638.5,206.0L637.5,208.5L636.5,211.5L637.5,212.5L635.5,215.0L635.0,217.5L637.5,219.0L641.0,221.0L643.0,224.0L643.8,226.5L642.0,228.5L639.5,229.0L637.8,226.5L636.5,223.5L635.5,222.0L634.5,220.0L632.0,219.5L630.5,216.0L627.5,214.5L624.0,216.0L620.5,212.5L615.0,217.5L620.5,221.5L627.0,222.2L622.5,227.0L628.0,232.5L632.5,239.5L634.0,245.0L634.0,244.0L632.5,248.0L631.0,252.0L629.0,256.0L626.0,258.5L622.0,260.0L619.0,261.5L616.0,263.0L614.0,263.5L612.5,263.0L612.0,265.0L610.5,264.0L608.0,262.5L605.5,263.2L603.5,265.5L602.0,267.5L603.5,270.0L606.0,273.0L609.0,276.5L611.5,280.0L613.0,284.0L613.5,288.5L610.0,291.0L606.5,294.5L604.5,296.0L604.0,293.0L603.0,291.5L600.0,290.0L598.0,287.5L597.5,286.5L595.0,285.5L593.0,284.0L591.5,287.0L591.0,290.0L591.5,293.0L593.5,296.0L594.0,300.0L597.0,302.0L601.0,305.0L602.4,311.0L603.6,315.4L601.0,314.6L596.0,309.0L593.0,304.0L589.5,300.0L588.5,297.0L589.0,293.0L589.0,292.0L588.0,288.0L586.5,283.0L585.0,278.0L584.0,275.5L583.0,276.0L580.0,278.0L578.0,277.0L576.0,272.0L573.5,268.0L571.5,264.0L571.5,264.5L570.0,261.0L568.0,259.5L566.0,261.5L564.0,262.0L560.0,263.5L558.0,267.0L554.0,272.0L550.0,275.5L546.5,278.0L546.0,280.0L547.0,285.0L547.0,287.0L544.0,294.0L541.6,298.0L538.0,292.0L533.0,281.0L534.0,285.0L531.0,278.0L529.0,272.0L527.5,267.0L526.5,263.5L524.0,264.5L521.5,263.5L519.0,261.5L518.5,258.5L516.0,257.0L514.0,255.0L511.5,252.8L505.0,253.0L500.0,253.5L507.0,253.0L501.0,253.2L495.0,252.0L490.5,250.0L489.0,248.5L486.0,249.5L482.0,248.5L478.0,246.0L475.0,242.5L473.5,240.0L470.0,241.0L470.5,243.5L472.5,246.5L475.0,249.5L476.2,251.8L476.5,251.2L478.0,250.8L479.0,253.5L477.8,255.2L479.5,255.2L482.0,255.5L486.0,254.5L488.0,252.0L489.5,251.2L490.0,254.0L491.0,255.0L494.5,257.0L498.0,260.5L496.5,264.0L494.5,266.5L493.0,270.0L489.0,272.5L485.0,275.0L482.0,277.0L477.0,280.5L472.0,282.5L467.0,284.5L461.5,285.0L461.0,281.0L459.0,276.0L456.0,271.0L452.5,266.0L451.0,261.0L448.0,256.0L444.5,251.0L441.5,246.0L440.0,242.0L439.0,239.0L438.5,237.5L440.0,233.0L441.0,229.0L441.5,225.0L441.0,224.0L439.0,223.5L435.0,223.0L431.0,224.0L428.0,223.0L425.0,223.5L435.0,224.5L430.6,224.2L427.0,223.9L424.0,223.3L421.9,221.8L421.0,220.0L420.1,218.2L419.5,215.8L420.7,213.7L419.5,213.4L418.6,211.9L418.6,210.5L416.8,210.7L418.3,211.9L416.8,213.1L415.0,212.2L413.2,212.5L414.1,213.7L413.2,214.6L411.7,213.7L411.4,214.9L412.6,216.7L414.1,218.8L414.4,220.0L413.2,220.9L412.9,222.7L412.0,223.6L410.8,222.4L409.9,220.6L408.7,218.8L407.5,217.0L406.6,215.8L406.0,214.6L405.1,215.2L404.2,213.1L404.1,211.0L403.9,208.9L402.4,208.3L402.1,208.6L400.6,208.0L397.9,205.9L395.5,203.5L394.0,201.7L393.4,200.2L391.3,200.1L391.0,199.9L389.8,200.8L388.6,202.0L389.8,204.4L392.2,207.4L395.2,209.8L398.2,211.6L401.2,213.4L402.4,214.6L400.9,214.9L399.7,214.0L399.1,215.2L399.7,217.0L398.5,218.2L397.6,217.3L397.9,215.8L396.4,214.0L393.4,212.2L390.4,209.8L387.4,207.4L385.0,206.5L382.5,204.0L379.5,204.5L378.0,203.5L376.5,205.0L373.0,205.5L370.0,206.5L368.0,208.0L369.0,209.5L365.0,212.0L363.5,214.5L363.0,217.5L361.0,220.0L358.0,223.0L354.0,223.5L351.0,225.0L349.0,223.0L347.5,222.0L344.5,221.5L343.5,217.5L344.5,214.0L345.0,209.5L344.0,206.5L347.0,205.5L351.0,205.5L356.0,206.2L360.5,205.8L360.0,202.5L359.5,199.0L357.0,196.0L354.5,195.0L354.0,193.0L357.5,192.0L361.5,190.0L366.0,187.5L369.0,186.5L367.6,186.4L369.7,185.2L371.2,184.0L372.1,181.9L373.6,181.0L376.0,180.4L378.4,179.8L379.6,178.6L379.9,177.4L379.0,176.2L378.4,173.8L379.0,171.7L380.8,170.8L382.7,169.8L383.1,171.1L382.8,172.9L382.4,174.4L382.1,175.7L381.9,177.0L383.2,176.5L385.0,177.4L387.4,177.4L390.0,178.0L391.0,179.5L395.0,178.0L400.0,177.5L404.0,178.0L403.5,174.5L404.0,170.5L406.5,166.5L414.0,165.7L416.2,164.5L414.5,163.3L409.0,164.0L405.0,163.5L402.5,161.5L401.5,158.5L402.5,156.0L405.0,154.0L406.5,152.0L404.5,151.0L402.5,151.0L400.0,152.5L399.5,155.0L396.5,157.5L394.5,160.0L395.5,162.5L397.5,164.0L396.0,167.0L394.0,168.5L393.5,172.0L391.5,174.0L389.0,175.0L386.5,172.0L385.0,168.5L384.0,165.5L381.5,166.5L379.5,168.5L376.0,168.8L373.5,167.0L372.5,159.5L376.5,157.5L381.0,154.0L385.0,149.5L388.0,146.0L392.0,143.0Z"/></clipPath><g clip-path="url(#cea)"><rect x="330" y="100" width="370" height="230" fill="#2c7fb8"/><path d="M418.0,213.0L423.0,210.0L425.0,212.0L429.0,211.5L433.0,209.8L437.0,209.5L443.0,211.0L448.5,211.5L449.5,208.0L455.0,207.5L459.5,209.5L460.5,211.0L457.0,211.0L455.5,212.0L456.0,214.0L458.0,216.0L461.0,217.0L463.5,217.0L466.0,216.5L468.0,218.0L469.5,221.0L473.0,222.5L477.0,222.5L479.0,221.0L481.0,221.0L485.0,220.0L489.0,220.5L493.0,222.0L496.0,224.5L499.0,226.5L498.0,226.5L500.0,224.5L502.5,222.0L505.0,220.0L509.5,222.5L511.5,221.0L513.5,220.5L515.0,219.0L517.0,221.5L519.0,223.0L522.0,222.0L524.5,222.0L528.0,224.0L531.0,226.0L529.5,227.0L526.0,227.5L524.5,229.0L527.0,233.5L526.5,239.0L524.0,244.0L520.0,246.5L518.5,249.0L520.5,251.0L522.5,255.0L519.0,257.0L516.0,257.0L516.0,300.0L416.0,300.0L416.0,226.0Z" fill="#253494" /><path d="M489.0,254.0L491.0,255.0L495.0,256.0L501.0,260.0L496.5,265.0L493.0,271.0L487.0,276.0L483.5,274.0L482.0,270.0L485.0,268.0L487.5,266.5L488.5,262.0L487.5,259.0L488.5,256.0Z" fill="#2c7fb8" /><path d="M489.0,250.0L490.2,250.0L490.5,254.0L489.0,254.0Z" fill="#2c7fb8" /><path d="M476.0,251.8L476.5,251.0L478.2,250.6L479.2,253.5L477.8,255.4L476.4,253.8Z" fill="#2c7fb8" /><path d="M478.5,202.0L481.0,201.0L485.0,200.5L489.0,203.0L493.0,205.0L498.0,204.5L501.5,207.5L503.0,210.0L506.5,211.5L508.0,212.5L509.5,214.0L507.5,216.0L509.0,218.0L509.5,221.0L509.0,221.5L505.0,220.0L502.5,222.0L500.0,224.5L498.0,226.5L499.0,226.5L496.0,224.5L493.0,222.0L489.0,220.5L485.0,220.0L481.0,221.0L479.0,221.0L477.5,217.5L476.0,215.0L475.5,213.0L478.0,212.5L477.5,211.0L476.0,209.8L477.0,209.0L480.5,210.0L479.5,206.0Z" fill="#41b6c4" /><path d="M539.5,191.0L537.5,192.5L537.0,195.0L535.0,196.0L532.5,197.0L532.0,200.5L529.0,202.0L531.0,204.0L532.0,206.5L531.5,208.5L529.0,210.0L525.0,212.0L523.0,213.5L521.0,215.0L522.5,218.0L524.0,220.5L524.5,222.0L528.0,224.0L531.0,226.0L533.0,228.0L535.0,231.0L537.0,234.0L536.0,236.0L539.0,238.0L542.5,239.5L541.0,242.0L541.5,244.0L546.0,246.0L552.0,248.5L559.0,250.0L560.5,250.2L561.2,249.0L565.0,249.3L569.0,248.5L569.0,246.5L571.0,243.5L574.0,242.5L577.0,243.0L579.0,245.0L577.0,248.0L575.0,251.0L574.5,255.0L572.0,258.0L571.5,264.5L570.0,267.0L570.0,270.0L576.0,282.0L580.0,282.0L587.0,294.0L590.0,289.0L589.5,288.0L588.0,284.0L586.5,279.0L585.0,274.0L585.0,270.0L587.5,267.0L590.5,265.0L592.5,262.5L594.0,260.5L597.0,259.5L600.5,258.5L603.0,260.0L604.5,262.0L605.5,263.2L612.0,268.0L640.0,260.0L640.0,230.0L625.0,227.0L624.0,217.0L627.5,214.5L630.0,211.5L633.0,209.0L636.0,207.5L638.5,206.0L636.0,204.5L634.5,202.0L637.5,200.0L637.0,196.0L635.5,193.0L633.0,194.5L629.0,194.0L625.0,191.0L620.0,190.0L617.5,188.0L614.5,185.0L618.0,185.0L608.0,180.6L601.0,182.0L598.0,188.6L590.0,189.0L582.0,190.0L570.0,188.0L561.0,187.0L558.0,185.0L548.0,188.0L540.0,191.4Z" fill="#41b6c4" /><path d="M560.6,250.2L564.5,252.0L569.7,254.6L570.7,257.2L571.4,261.0L572.2,264.5L570.5,265.0L569.2,259.8L568.0,259.8L566.0,263.0L563.4,263.0L562.0,257.0Z" fill="#253494" /><path d="M457.0,190.0L458.0,188.0L461.0,185.5L465.0,184.5L469.0,185.5L473.0,187.0L478.0,186.5L483.0,187.0L485.0,186.2L481.5,184.5L482.5,181.5L482.0,179.0L486.0,178.0L491.0,177.0L496.0,175.5L499.0,176.0L501.0,178.0L504.0,178.5L507.0,179.5L511.0,178.0L515.0,180.5L519.0,184.0L522.0,186.5L528.0,186.5L531.0,188.0L535.0,189.5L538.5,190.5L537.0,193.0L537.5,196.0L534.0,196.5L532.5,199.5L529.5,202.0L531.5,204.0L532.0,207.0L528.0,206.5L523.0,206.0L518.0,206.5L513.0,207.0L512.0,209.0L510.0,210.0L508.0,212.0L506.5,211.5L503.0,210.0L501.5,207.5L498.0,205.0L493.0,204.5L490.0,203.5L485.0,201.0L481.0,200.5L478.5,201.5L479.5,205.5L480.5,210.0L477.0,209.0L475.0,207.5L473.5,205.5L470.0,204.0L468.0,203.0L471.5,200.5L472.0,198.0L469.0,197.0L465.0,198.0L463.0,196.0L460.0,195.0L457.5,192.5Z" fill="#a1dab4" /><path d="M513.0,211.8L517.0,211.5L517.2,213.5L513.2,213.8Z" fill="#41b6c4" /><path d="M634.5,220.0L637.5,219.0L642.0,220.0L645.0,224.0L645.0,229.0L639.5,230.0L637.8,226.5L636.5,223.5L635.5,222.0Z" fill="#a1dab4" /><path d="M585.0,270.0L587.5,267.0L590.5,265.0L592.5,262.5L594.0,260.5L597.0,259.5L600.5,258.5L603.0,260.0L604.5,262.0L605.5,263.2L620.0,265.0L620.0,305.0L585.0,305.0L589.0,292.0L590.0,289.0L589.5,288.0L588.0,284.0L586.5,279.0L585.0,274.0Z" fill="#ffffcc" /><path d="M590.5,265.0L592.5,262.5L594.0,260.5L595.0,262.5L597.5,263.0L600.0,265.0L599.5,267.5L601.0,270.0L604.0,274.0L607.0,278.0L608.5,281.0L608.2,282.8L605.2,282.5L603.5,278.5L602.0,274.5L600.0,272.0L597.0,272.0L594.0,273.0L592.5,270.0L591.5,267.5Z" fill="#a1dab4" /><path d="M597.5,284.0L599.5,282.0L603.0,281.0L605.5,281.5L608.0,282.0L609.5,285.5L608.5,288.0L606.5,290.0L603.0,292.0L600.0,290.5L597.5,288.0Z" fill="#a1dab4" /><path d="M593.0,303.4L595.0,302.2L599.0,301.0L604.0,305.0L605.0,317.0L600.0,317.0L595.0,309.0Z" fill="#2c7fb8" /><path d="M408.1,195.1L410.2,194.5L413.2,194.2L416.2,193.6L417.7,193.3L419.5,192.7L421.0,193.6L422.8,196.0L424.0,197.8L423.4,198.7L423.4,202.0L427.0,197.2L430.6,199.0L428.0,197.8L430.5,199.0L432.5,203.0L436.0,202.5L435.0,199.0L436.0,197.5L439.5,196.5L442.0,196.0L441.0,195.0L443.5,193.5L443.5,190.5L440.0,189.5L435.0,188.0L431.0,184.5L425.0,183.5L425.0,185.0L410.0,185.0L409.0,188.0L409.0,190.8Z" fill="#253494" /><path d="M366.4,185.8L370.0,184.0L372.4,180.4L379.6,178.0L381.4,176.2L385.0,176.8L390.4,177.4L391.0,180.0L392.0,186.2L388.0,188.5L390.0,191.5L393.0,192.5L388.0,195.0L384.0,196.0L384.0,196.5L383.0,198.5L380.0,199.0L377.5,199.5L376.0,197.5L378.5,195.5L378.5,192.5L377.0,191.0L375.5,190.5L373.0,189.0L369.0,186.5Z" fill="#253494" /><path d="M390.5,179.0L395.0,177.0L400.0,176.5L404.0,177.0L409.0,179.2L409.5,182.0L410.0,184.5L411.0,187.5L410.5,185.0L409.0,188.0L409.0,190.5L405.0,189.8L400.5,190.3L396.0,187.8L392.0,186.2L391.0,180.0Z" fill="#a1dab4" /><path d="M388.0,188.5L392.0,186.2L396.0,187.8L400.5,190.3L398.0,192.0L395.5,191.5L393.0,192.5L390.0,191.5Z" fill="#41b6c4" /><path d="M384.0,196.0L388.0,195.0L393.0,192.5L395.5,191.5L398.0,192.0L400.5,190.3L405.0,189.8L409.0,190.8L408.0,193.0L410.0,194.5L408.0,197.0L405.0,199.0L401.0,199.7L398.0,198.2L396.0,199.5L393.0,200.5L392.0,198.2L390.0,197.5L386.0,197.0L384.0,196.5Z" fill="#a1dab4" /><path d="M377.5,199.7L380.0,199.2L383.0,198.7L386.0,197.0L390.0,197.5L392.0,198.2L393.0,200.5L410.0,220.0L390.0,225.0L375.0,206.0Z" fill="#ffffcc" /><path d="M393.4,200.2L395.2,199.3L396.1,198.4L397.9,199.0L400.6,199.9L402.4,199.6L402.4,201.1L400.0,201.1L397.0,201.1L395.8,201.7L397.0,203.5L399.4,205.6L401.5,207.7L402.1,209.2L399.4,208.0L395.5,204.4L392.8,201.7Z" fill="#ffffcc" /><path d="M395.8,201.7L397.0,201.1L400.0,201.1L402.4,201.4L403.3,202.9L403.9,204.7L402.7,206.2L401.8,207.7L399.4,205.6L397.0,203.5Z" fill="#41b6c4" /><path d="M402.4,199.6L405.7,198.1L406.9,199.6L408.1,201.4L409.6,202.9L410.2,205.0L409.9,207.1L408.7,208.3L407.8,206.8L405.7,206.8L404.8,206.5L403.9,204.7L403.3,202.9L402.4,201.4Z" fill="#a1dab4" /><path d="M403.9,208.9L405.1,208.0L406.0,208.9L406.3,210.7L406.9,212.5L406.0,214.6L404.8,215.8L403.0,213.4L403.0,209.8Z" fill="#a1dab4" /><path d="M410.5,205.0L413.2,204.7L416.8,204.4L420.4,204.1L423.4,203.5L423.7,205.9L422.2,208.0L421.3,209.2L419.2,210.1L416.8,210.7L414.4,211.0L412.0,211.3L411.1,210.1L410.5,208.9L409.9,207.1L410.2,205.0Z" fill="#a1dab4" /><path d="M401.5,206.8L403.0,205.9L404.8,206.5L405.1,207.7L403.9,208.9L402.1,209.2Z" fill="#ffffcc" /><path d="M406.6,209.2L408.4,208.6L410.5,208.9L411.1,210.1L410.5,211.3L408.1,211.9L406.9,212.2L406.3,210.7Z" fill="#ffffcc" /><path d="M405.7,198.1L407.2,196.6L408.1,195.1L410.2,194.5L413.2,194.2L416.2,193.6L417.7,193.3L419.2,195.4L420.4,197.8L421.3,199.9L423.7,200.5L425.2,201.1L423.4,202.3L423.4,203.5L420.4,204.1L416.8,204.4L413.2,204.7L410.5,205.0L409.9,202.9L408.1,201.4L406.9,199.6Z" fill="#ffffcc" /><path d="M405.7,206.8L407.8,206.8L408.1,208.3L406.6,209.1L405.7,208.3Z" fill="#f2f2f2" /><path d="M417.7,193.3L419.5,192.7L421.0,193.6L422.8,196.0L424.0,197.8L423.4,198.7L421.9,198.4L421.6,199.9L420.4,197.8L419.2,195.4Z" fill="#41b6c4" /><path d="M406.0,214.6L406.9,212.5L408.1,211.9L410.5,211.3L412.0,211.3L414.4,211.0L416.8,210.7L418.6,210.4L420.4,209.8L421.3,209.2L423.4,210.1L424.3,211.7L421.0,213.4L418.6,215.2L418.6,226.0L403.0,226.0Z" fill="#253494" /><path d="M345.0,209.5L348.8,210.0L348.5,214.0L348.0,219.0L347.5,222.5L342.0,223.0L342.0,209.0Z" fill="#253494" /><path d="M370.0,159.0L376.5,156.5L381.0,153.0L385.0,148.5L388.0,145.0L392.0,142.0L397.0,140.0L403.0,138.5L409.0,137.8L415.0,139.0L414.5,141.0L411.5,142.0L409.0,141.2L407.0,142.5L405.0,144.0L402.0,145.0L399.5,144.0L394.5,145.0L391.0,146.5L389.0,149.5L387.0,154.0L384.5,156.0L384.5,160.0L385.5,162.0L384.0,165.5L381.5,167.5L379.5,169.5L376.0,169.8L372.5,168.0Z" fill="#41b6c4" /><path d="M384.5,160.0L384.5,156.0L387.0,154.0L389.0,149.5L391.0,146.5L394.5,145.0L399.5,144.0L402.0,145.0L403.2,147.5L402.5,151.0L404.0,151.5L400.0,153.5L400.0,155.5L397.5,158.0L395.5,160.0L396.5,162.5L398.5,164.0L397.0,167.5L395.0,169.0L394.5,172.5L392.0,175.0L389.0,176.0L386.0,172.5L385.0,168.5L384.0,165.5L385.5,162.0Z" fill="#253494" /><path d="M402.0,145.0L405.0,144.0L407.0,142.5L409.0,141.2L411.5,142.0L412.0,144.5L414.0,147.5L414.5,151.5L417.0,155.0L419.5,158.0L417.0,161.0L414.5,163.5L409.0,164.5L404.0,164.0L401.5,161.5L400.5,158.5L401.5,155.5L404.5,153.5L406.0,152.0L404.0,151.2L402.5,151.0L403.2,147.5Z" fill="#a1dab4" /><path d="M405.5,166.0L414.0,165.2L415.0,169.5L416.5,173.0L414.0,174.7L410.0,173.7L406.0,173.2L402.5,173.5L403.0,170.0Z" fill="#41b6c4" /></g><path d="M460.0,202.5L462.0,200.5L465.0,198.0L468.0,197.0L471.5,197.5L472.0,199.5L469.0,201.5L468.0,203.5L471.0,206.0L474.0,209.0L476.0,209.5L477.5,211.0L478.0,212.5L475.5,213.0L476.0,215.0L477.5,217.5L479.0,221.0L477.0,222.5L473.0,222.5L469.5,221.0L468.0,218.5L468.5,215.0L469.0,213.5L467.0,212.0L464.5,209.0L462.5,206.0Z" fill="#fff" /><path d="M421.6,207.4L422.5,205.6L422.2,203.8L423.4,201.7L424.0,201.1L424.9,199.0L426.4,197.8L428.2,197.5L430.0,199.0L431.8,199.9L430.6,201.1L432.4,202.6L435.0,202.9L428.0,197.8L430.5,199.0L432.5,203.0L436.0,202.5L440.0,202.8L445.0,205.0L449.5,208.0L450.5,210.0L448.5,211.5L443.0,211.0L437.0,209.5L433.0,209.8L429.0,211.5L425.0,212.0L431.8,210.1L428.2,211.0L425.8,211.6L424.0,210.7L421.9,209.2Z" fill="#fff" /><path d="M435.0,199.0L436.0,197.5L439.5,196.5L441.8,196.2L441.0,198.5L438.0,200.5L435.5,200.5Z" fill="#fff" /><path d="M482.0,138.3L484.0,138.8L486.5,142.0L489.0,145.0L490.6,147.0L489.6,149.3L486.3,149.8L487.0,147.2L485.0,144.5L483.0,141.5Z" fill="#fff" /><path d="M420.7,213.1L422.2,212.1L424.3,211.9L424.0,212.8L422.2,213.1Z" fill="#fff" /><path d="M397.0,141.0L403.0,139.5L409.0,138.8L414.0,139.8L419.0,142.0L425.0,143.0L425.0,144.5L429.0,145.5L433.0,147.5L433.5,149.5L431.0,150.5L427.0,150.0L425.0,149.7L423.0,148.5L421.0,148.5L420.5,150.0L422.0,151.5L424.5,153.2L425.0,155.0L428.0,153.2L432.5,153.7L433.5,152.0L434.5,150.0L438.0,149.0L436.5,144.5L441.5,145.5L442.5,148.0L446.0,147.0L453.0,144.5L455.0,145.0L463.0,142.5L465.0,144.0L469.0,142.5L475.0,144.0L479.0,145.0L477.0,143.0L473.0,140.0L474.0,135.5L479.0,135.5L481.0,138.5L482.5,138.5L485.0,141.0L487.5,144.5L490.0,146.5L489.0,149.0L486.5,149.5L487.5,147.0L485.0,143.5L483.0,140.0L483.0,135.5L485.0,137.5L489.0,136.5L494.0,137.0L491.0,133.5L497.0,133.0L499.0,131.0L505.0,129.0L505.0,129.1L512.1,128.3L517.9,126.2L525.0,127.4L532.1,127.4L538.5,129.7L535.6,132.3L542.6,133.5L552.1,134.2L557.9,133.5L567.4,134.6L572.1,137.4L577.4,139.1L582.6,137.7L589.7,137.4L587.4,135.4L590.9,135.4L605.0,136.8L610.0,139.0L615.0,140.0L623.0,139.5L627.0,141.0L631.0,142.5L638.0,142.5L644.0,142.5L648.5,144.0L645.5,141.5L652.0,141.5L658.0,142.0L664.0,143.0L668.0,145.0L672.0,148.0L676.0,151.0L678.5,152.5L676.0,154.0L679.0,155.5L683.0,157.5L685.0,158.5L681.0,159.5L678.0,161.5L677.0,164.0L674.0,163.0L670.0,164.0L666.0,165.0L667.0,168.0L671.0,171.0L674.0,174.0L675.0,179.0L675.0,183.0L674.8,186.0L672.0,183.5L668.0,180.0L664.0,176.5L660.0,173.0L658.0,169.5L660.0,168.5L660.0,165.0L661.0,162.0L659.0,159.0L657.5,159.0L657.5,162.0L655.5,162.5L653.0,160.5L649.0,161.0L648.0,163.5L651.0,165.5L648.0,166.5L645.0,167.0L642.0,165.5L639.0,166.0L633.0,166.5L627.5,167.0L626.0,172.0L624.0,176.5L629.0,178.0L632.0,179.5L635.0,178.5L638.5,180.0L641.0,184.0L643.0,187.0L644.5,190.0L645.0,189.0L646.5,194.0L646.5,199.0L645.0,204.0L643.0,207.0L640.5,207.5L638.5,206.0L637.5,208.5L636.5,211.5L637.5,212.5L635.5,215.0L635.0,217.5L637.5,219.0L641.0,221.0L643.0,224.0L643.8,226.5L642.0,228.5L639.5,229.0L637.8,226.5L636.5,223.5L635.5,222.0L634.5,220.0L632.0,219.5L630.5,216.0L627.5,214.5L624.0,216.0L620.5,212.5L615.0,217.5L620.5,221.5L627.0,222.2L622.5,227.0L628.0,232.5L632.5,239.5L634.0,245.0L634.0,244.0L632.5,248.0L631.0,252.0L629.0,256.0L626.0,258.5L622.0,260.0L619.0,261.5L616.0,263.0L614.0,263.5L612.5,263.0L612.0,265.0L610.5,264.0L608.0,262.5L605.5,263.2L603.5,265.5L602.0,267.5L603.5,270.0L606.0,273.0L609.0,276.5L611.5,280.0L613.0,284.0L613.5,288.5L610.0,291.0L606.5,294.5L604.5,296.0L604.0,293.0L603.0,291.5L600.0,290.0L598.0,287.5L597.5,286.5L595.0,285.5L593.0,284.0L591.5,287.0L591.0,290.0L591.5,293.0L593.5,296.0L594.0,300.0L597.0,302.0L601.0,305.0L602.4,311.0L603.6,315.4L601.0,314.6L596.0,309.0L593.0,304.0L589.5,300.0L588.5,297.0L589.0,293.0L589.0,292.0L588.0,288.0L586.5,283.0L585.0,278.0L584.0,275.5L583.0,276.0L580.0,278.0L578.0,277.0L576.0,272.0L573.5,268.0L571.5,264.0L571.5,264.5L570.0,261.0L568.0,259.5L566.0,261.5L564.0,262.0L560.0,263.5L558.0,267.0L554.0,272.0L550.0,275.5L546.5,278.0L546.0,280.0L547.0,285.0L547.0,287.0L544.0,294.0L541.6,298.0L538.0,292.0L533.0,281.0L534.0,285.0L531.0,278.0L529.0,272.0L527.5,267.0L526.5,263.5L524.0,264.5L521.5,263.5L519.0,261.5L518.5,258.5L516.0,257.0L514.0,255.0L511.5,252.8L505.0,253.0L500.0,253.5L507.0,253.0L501.0,253.2L495.0,252.0L490.5,250.0L489.0,248.5L486.0,249.5L482.0,248.5L478.0,246.0L475.0,242.5L473.5,240.0L470.0,241.0L470.5,243.5L472.5,246.5L475.0,249.5L476.2,251.8L476.5,251.2L478.0,250.8L479.0,253.5L477.8,255.2L479.5,255.2L482.0,255.5L486.0,254.5L488.0,252.0L489.5,251.2L490.0,254.0L491.0,255.0L494.5,257.0L498.0,260.5L496.5,264.0L494.5,266.5L493.0,270.0L489.0,272.5L485.0,275.0L482.0,277.0L477.0,280.5L472.0,282.5L467.0,284.5L461.5,285.0L461.0,281.0L459.0,276.0L456.0,271.0L452.5,266.0L451.0,261.0L448.0,256.0L444.5,251.0L441.5,246.0L440.0,242.0L439.0,239.0L438.5,237.5L440.0,233.0L441.0,229.0L441.5,225.0L441.0,224.0L439.0,223.5L435.0,223.0L431.0,224.0L428.0,223.0L425.0,223.5L435.0,224.5L430.6,224.2L427.0,223.9L424.0,223.3L421.9,221.8L421.0,220.0L420.1,218.2L419.5,215.8L420.7,213.7L419.5,213.4L418.6,211.9L418.6,210.5L416.8,210.7L418.3,211.9L416.8,213.1L415.0,212.2L413.2,212.5L414.1,213.7L413.2,214.6L411.7,213.7L411.4,214.9L412.6,216.7L414.1,218.8L414.4,220.0L413.2,220.9L412.9,222.7L412.0,223.6L410.8,222.4L409.9,220.6L408.7,218.8L407.5,217.0L406.6,215.8L406.0,214.6L405.1,215.2L404.2,213.1L404.1,211.0L403.9,208.9L402.4,208.3L402.1,208.6L400.6,208.0L397.9,205.9L395.5,203.5L394.0,201.7L393.4,200.2L391.3,200.1L391.0,199.9L389.8,200.8L388.6,202.0L389.8,204.4L392.2,207.4L395.2,209.8L398.2,211.6L401.2,213.4L402.4,214.6L400.9,214.9L399.7,214.0L399.1,215.2L399.7,217.0L398.5,218.2L397.6,217.3L397.9,215.8L396.4,214.0L393.4,212.2L390.4,209.8L387.4,207.4L385.0,206.5L382.5,204.0L379.5,204.5L378.0,203.5L376.5,205.0L373.0,205.5L370.0,206.5L368.0,208.0L369.0,209.5L365.0,212.0L363.5,214.5L363.0,217.5L361.0,220.0L358.0,223.0L354.0,223.5L351.0,225.0L349.0,223.0L347.5,222.0L344.5,221.5L343.5,217.5L344.5,214.0L345.0,209.5L344.0,206.5L347.0,205.5L351.0,205.5L356.0,206.2L360.5,205.8L360.0,202.5L359.5,199.0L357.0,196.0L354.5,195.0L354.0,193.0L357.5,192.0L361.5,190.0L366.0,187.5L369.0,186.5L367.6,186.4L369.7,185.2L371.2,184.0L372.1,181.9L373.6,181.0L376.0,180.4L378.4,179.8L379.6,178.6L379.9,177.4L379.0,176.2L378.4,173.8L379.0,171.7L380.8,170.8L382.7,169.8L383.1,171.1L382.8,172.9L382.4,174.4L382.1,175.7L381.9,177.0L383.2,176.5L385.0,177.4L387.4,177.4L390.0,178.0L391.0,179.5L395.0,178.0L400.0,177.5L404.0,178.0L403.5,174.5L404.0,170.5L406.5,166.5L414.0,165.7L416.2,164.5L414.5,163.3L409.0,164.0L405.0,163.5L402.5,161.5L401.5,158.5L402.5,156.0L405.0,154.0L406.5,152.0L404.5,151.0L402.5,151.0L400.0,152.5L399.5,155.0L396.5,157.5L394.5,160.0L395.5,162.5L397.5,164.0L396.0,167.0L394.0,168.5L393.5,172.0L391.5,174.0L389.0,175.0L386.5,172.0L385.0,168.5L384.0,165.5L381.5,166.5L379.5,168.5L376.0,168.8L373.5,167.0L372.5,159.5L376.5,157.5L381.0,154.0L385.0,149.5L388.0,146.0L392.0,143.0Z" fill="none"/><path d="M433.5,237.8L439.0,237.2L440.2,242.0L441.6,246.0L440.0,246.6L438.5,246.6L436.2,244.0L434.5,241.5Z" fill="#253494" style="stroke:none"/><path d="M434.7,241.6L436.2,243.8L438.5,246.4" fill="none" style="stroke:#fff;stroke-opacity:1;stroke-width:0.8"/>
<!-- 50_islands.py -->
<path d="M352.9,167.8L355.0,167.5L357.4,167.5L356.8,169.0L358.3,169.9L359.2,170.5L358.3,172.0L357.7,173.5L359.8,174.7L361.0,176.2L362.5,178.3L363.4,180.4L365.2,181.9L366.1,182.8L365.2,184.6L364.3,185.8L362.2,186.4L359.8,186.7L357.4,187.0L355.0,187.3L352.9,188.5L351.7,188.2L352.9,187.0L354.7,186.1L353.5,184.6L352.9,183.7L354.1,182.5L354.1,180.7L355.6,180.1L356.5,178.6L355.9,177.4L353.8,176.8L352.6,175.6L352.9,173.8L351.7,172.6L351.7,170.5Z" fill="#253494" /><path d="M343.9,179.5L345.4,178.0L347.2,177.1L348.4,176.7L349.0,178.0L350.2,178.6L351.1,179.5L350.8,181.3L349.6,182.8L347.8,183.7L345.7,184.6L343.6,184.3L344.2,182.5L344.5,181.0Z" fill="#2c7fb8" /><path d="M348.4,176.5L349.6,175.9L351.1,176.8L351.4,177.7L350.2,178.6L349.0,178.0Z" fill="#253494" /><path d="M384.1,174.4L385.6,174.1L387.1,174.7L386.5,176.2L385.0,176.5L384.1,175.6Z" fill="#2c7fb8" /><path d="M378.0,121.8L383.0,121.0L388.0,120.5L395.0,119.8L401.5,120.8L400.5,122.0L394.0,122.5L391.0,123.5L389.5,126.5L387.0,127.5L384.0,126.5L382.0,124.5L379.5,123.5Z" fill="#41b6c4" /><path d="M394.0,124.5L399.5,124.8L399.0,125.8L394.5,125.5Z" fill="#41b6c4" /><path d="M446.5,137.0L448.0,133.5L450.0,130.5L455.0,128.5L461.0,127.5L466.0,127.0L467.5,128.0L463.0,129.0L458.0,130.0L454.0,132.5L452.0,135.5L453.5,138.0L457.0,139.5L453.0,139.8L449.0,138.5Z" fill="#2c7fb8" /><path d="M427.0,119.8L431.0,119.3L435.5,119.7L435.0,120.5L431.0,120.8L427.5,120.5Z" fill="#2c7fb8" /><path d="M493.5,120.0L497.0,119.0L504.0,120.5L508.5,122.5L506.0,123.5L500.0,122.5L495.0,121.0Z" fill="#2c7fb8" /><path d="M505.0,121.5L508.5,122.4L508.3,123.6L505.0,123.2Z" fill="#2c7fb8" /><path d="M510.3,122.6L517.4,123.6L516.8,124.8L510.9,124.4Z" fill="#2c7fb8" /><path d="M573.8,129.1L580.3,128.5L586.8,129.9L580.3,131.5L575.6,130.6Z" fill="#2c7fb8" /><path d="M588.5,129.7L596.2,130.3L595.6,131.5L589.1,130.6Z" fill="#2c7fb8" /><path d="M655.0,138.2L657.5,139.0L658.0,140.0L656.0,139.5Z" fill="#2c7fb8" /><path d="M425.0,144.0L425.0,150.0L422.0,150.0L422.0,144.5Z" fill="#2c7fb8" /><path d="M639.0,178.0L642.0,180.5L646.0,185.0L650.0,188.5L652.5,190.0L647.0,190.0L644.0,186.0L641.0,182.0Z" fill="#2c7fb8" /><path d="M644.0,185.0L647.5,185.0L651.0,188.0L654.5,191.0L652.0,191.5L654.0,194.5L657.5,198.0L655.0,198.5L652.0,195.0L649.0,191.0L646.0,187.5Z" fill="#2c7fb8" /><path d="M655.5,200.5L658.0,202.5L661.0,204.0L664.5,203.0L666.8,205.5L664.0,207.0L664.0,209.0L661.0,208.0L659.0,210.0L656.5,207.5L656.0,205.5L658.0,205.0Z" fill="#41b6c4" /><path d="M660.0,211.0L663.0,212.5L665.5,216.0L666.0,220.0L668.0,225.0L667.0,227.5L664.0,228.5L661.0,230.0L659.5,231.5L657.5,229.5L655.5,229.0L653.5,229.5L651.0,230.5L649.0,231.0L647.5,232.0L646.5,232.5L649.0,229.0L651.5,226.0L654.5,225.5L657.0,225.0L657.5,222.0L660.0,221.0L661.5,218.0L660.0,214.5L659.5,212.0Z" fill="#41b6c4" /><path d="M646.5,232.5L649.0,231.0L651.0,232.0L652.0,235.0L652.5,237.0L651.0,238.0L649.5,236.0L648.0,234.0Z" fill="#41b6c4" /><path d="M653.0,231.0L656.5,230.0L657.0,231.5L654.5,233.0L653.0,232.5Z" fill="#41b6c4" /><path d="M633.5,256.0L635.0,253.0L636.5,253.5L636.8,257.0L635.5,261.5L634.0,259.5Z" fill="#ffffcc" stroke="#bbb" stroke-width="0.3"/><path d="M609.5,268.0L612.0,266.8L614.5,267.5L614.5,269.5L612.0,271.5L610.0,270.5Z" fill="#41b6c4" /><path d="M546.0,296.0L548.0,293.0L551.0,298.0L551.0,302.0L548.0,303.4L546.4,300.0Z" fill="#a1dab4" stroke="#999" stroke-width="0.3"/><path d="M433.0,227.5L435.5,226.2L437.5,226.0L436.5,228.0L434.0,228.8Z" fill="#41b6c4" /><path d="M414.0,226.0L420.0,226.5L419.5,227.8L414.5,227.0Z" fill="#253494" /><path d="M389.5,219.7L391.6,219.4L395.5,219.1L396.7,219.7L396.1,221.5L394.6,222.7L391.6,221.5L389.8,220.6Z" fill="#ffffcc" stroke="#bbb" stroke-width="0.3"/><path d="M380.5,212.0L383.0,211.8L383.5,215.0L382.5,217.5L380.5,217.0Z" fill="#ffffcc" stroke="#bbb" stroke-width="0.3"/><path d="M381.0,208.0L382.5,207.0L383.0,210.0L381.8,210.8Z" fill="#2c7fb8" /><path d="M636.5,273.0L638.0,270.5L641.0,271.5L641.5,275.0L640.5,278.0L642.5,281.0L645.5,282.0L649.0,286.0L651.0,289.0L649.0,290.0L647.0,287.0L644.0,284.5L641.5,284.0L640.0,286.0L638.5,284.0L639.0,281.0L636.5,277.5Z" fill="#a1dab4" stroke="#8ab89a" stroke-width="0.3"/><path d="M642.5,288.0L645.0,289.0L646.5,291.0L649.0,290.0L650.0,292.0L647.0,293.0L646.0,294.5L644.0,292.0Z" fill="#a1dab4" stroke="#8ab89a" stroke-width="0.3"/><path d="M643.5,300.0L646.5,298.5L648.5,296.5L651.0,294.0L653.5,295.5L654.5,299.0L653.5,303.0L651.5,304.5L650.0,302.0L648.5,300.0L646.0,300.0Z" fill="#a1dab4" stroke="#8ab89a" stroke-width="0.3"/><path d="M632.2,297.0L634.5,294.0L637.0,290.5L638.0,291.0L635.5,295.0L633.0,297.5Z" fill="#a1dab4" stroke="#8ab89a" stroke-width="0.3"/><path d="M642.5,290.0L645.0,289.5L647.0,291.0L649.0,290.0L651.5,292.0L650.0,293.5L646.5,293.0L644.0,292.0Z" fill="#a1dab4" stroke="#8ab89a" stroke-width="0.3"/><path d="M582.5,305.0L586.0,304.5L589.0,306.5L592.5,310.5L596.5,314.0L601.0,317.5L604.0,322.5L607.0,327.0L607.5,331.0L606.5,334.0L604.0,334.0L600.0,330.5L596.0,325.5L593.0,320.0L590.5,315.0L587.0,310.5L584.0,307.5Z" fill="#ffffcc" stroke="#c4c49a" stroke-width="0.35"/><path d="M605.5,335.5L608.0,334.5L613.0,335.5L618.0,336.5L623.0,338.0L627.5,339.5L629.0,341.0L626.5,341.8L621.0,340.5L615.0,339.5L609.5,338.0L606.5,337.0Z" fill="#ffffcc" stroke="#c4c49a" stroke-width="0.35"/><path d="M615.0,315.5L616.0,314.5L618.0,316.8L621.0,316.5L624.0,315.0L627.0,312.5L629.0,310.0L631.5,308.5L634.0,308.0L635.0,311.0L635.5,314.0L637.5,316.5L634.5,318.0L633.0,322.0L631.0,326.0L629.5,329.0L626.0,328.5L622.0,327.5L618.0,326.5L616.5,323.0L615.0,320.0Z" fill="#ffffcc" stroke="#c4c49a" stroke-width="0.35"/><path d="M616.0,314.5L619.5,312.5L623.0,310.0L626.5,306.5L629.5,303.0L631.5,301.0L633.5,302.0L635.5,304.0L638.0,305.0L636.5,307.0L634.0,308.0L631.5,308.5L629.0,310.0L627.0,312.5L624.0,315.0L621.0,316.5L618.0,316.8Z" fill="#2c7fb8" /><path d="M626.2,307.0L628.0,305.5L629.0,307.0L627.5,308.0Z" fill="#a1dab4" /><path d="M640.0,317.5L642.5,316.0L647.0,315.5L651.0,314.5L652.0,315.5L650.0,317.5L646.0,318.0L642.5,318.5L641.0,320.5L644.0,322.0L647.5,321.0L646.0,323.0L644.0,324.5L645.5,328.5L646.8,332.0L645.5,333.5L643.5,330.5L641.5,328.0L640.5,332.0L639.0,333.5L638.0,330.0L638.5,327.0L637.0,326.5L638.0,323.0L639.0,320.0Z" fill="#ffffcc" stroke="#c4c49a" stroke-width="0.35"/><path d="M657.0,314.5L658.5,313.5L659.5,316.0L659.0,319.0L658.0,321.0L657.2,318.0Z" fill="#ffffcc" stroke="#c4c49a" stroke-width="0.35"/><path d="M631.5,341.5L634.5,340.5L636.5,341.2L634.0,342.5Z" fill="#ffffcc" stroke="#c4c49a" stroke-width="0.35"/><path d="M636.5,343.5L638.5,343.5L640.5,345.0L638.0,345.5Z" fill="#ffffcc" stroke="#c4c49a" stroke-width="0.35"/><path d="M639.0,341.0L642.0,340.5L645.5,340.0L644.0,341.5L640.0,342.0Z" fill="#ffffcc" stroke="#c4c49a" stroke-width="0.35"/><path d="M646.5,344.5L649.0,342.5L652.0,341.0L650.5,342.2L651.5,343.0L650.0,344.0L648.0,345.8Z" fill="#ffffcc" stroke="#c4c49a" stroke-width="0.35"/><path d="M650.5,342.2L655.5,340.5L654.5,341.8L651.5,343.0Z" fill="#a1dab4" stroke="#8ab89a" stroke-width="0.3"/><path d="M653.5,327.5L656.0,327.0L656.0,328.5L654.0,328.5Z" fill="#ffffcc" stroke="#c4c49a" stroke-width="0.35"/><path d="M658.5,327.0L663.0,326.5L665.0,328.0L663.0,328.8L659.5,328.2Z" fill="#ffffcc" stroke="#c4c49a" stroke-width="0.35"/><path d="M658.0,326.5L662.0,326.2L664.5,328.0L662.0,327.8L658.5,327.5Z" fill="#ffffcc" stroke="#c4c49a" stroke-width="0.35"/><path d="M671.5,334.0L673.0,333.5L673.5,335.5L672.0,336.5Z" fill="#ffffcc" stroke="#c4c49a" stroke-width="0.35"/><path d="M664.0,321.5L668.0,320.0L671.5,321.0L673.0,323.5L672.5,325.5L675.0,327.5L678.0,324.5L681.5,323.5L685.0,324.5L688.0,326.0L687.0,342.5L684.0,341.0L681.5,341.0L679.5,340.5L681.5,338.5L682.5,335.5L680.5,333.0L678.0,331.0L675.0,329.5L672.0,328.5L669.5,329.5L668.0,327.0L667.5,325.5L670.0,325.5L667.5,323.5L665.0,322.5Z" fill="#ffffcc" stroke="#c4c49a" stroke-width="0.35"/><path d="M688.0,326.0L692.0,327.5L696.0,329.0L699.0,332.0L701.0,334.0L703.5,335.5L701.5,337.5L702.0,339.5L704.5,342.5L707.0,344.5L709.0,346.0L706.0,346.8L703.0,345.5L700.5,343.0L699.0,340.5L696.5,339.5L693.5,341.0L692.0,343.0L689.5,343.2L687.0,342.5Z" fill="#41b6c4" /><path d="M704.5,334.0L707.0,333.5L710.0,333.0L712.5,330.5L713.5,330.0L714.0,331.5L712.5,333.5L710.5,335.0L707.5,335.5L705.5,335.0Z" fill="#41b6c4" /><path d="M710.5,325.8L712.5,326.2L715.0,328.5L715.8,330.5L714.5,329.0L712.5,327.5Z" fill="#41b6c4" /><path d="M719.0,332.5L720.5,334.5L721.8,336.5L720.5,336.0L719.5,334.5Z" fill="#2c7fb8" /><path d="M723.0,336.5L725.0,337.8L724.5,338.2Z" fill="#2c7fb8" /><path d="M727.0,338.5L730.0,340.0L731.5,341.0L729.5,340.8Z" fill="#2c7fb8" /><path d="M731.5,340.5L734.0,342.0L734.5,344.0L733.0,343.0Z" fill="#2c7fb8" /><path d="M730.0,343.5L732.5,344.0L732.0,345.0L730.2,344.5Z" fill="#2c7fb8" /><path d="M734.0,346.0L735.5,346.5L735.0,347.2Z" fill="#2c7fb8" /><path d="M615.0,408.0L617.0,401.0L617.4,395.0L616.6,387.0L620.0,378.0L627.0,374.0L636.0,371.0L642.0,365.0L649.0,357.0L654.0,355.0L659.0,357.0L663.0,351.0L667.0,348.6L671.0,350.6L676.0,350.6L674.0,355.0L673.0,358.6L678.0,362.0L683.0,365.0L686.0,358.0L688.0,351.0L690.0,347.4L692.0,352.0L694.0,358.0L695.0,365.0L699.0,370.0L702.0,378.0L705.0,384.0L705.0,391.0L702.0,399.0L697.0,406.0L692.0,412.0L687.0,417.0L681.0,418.0L675.0,421.0L669.0,419.0L665.0,417.0L664.6,412.0L662.0,411.0L664.0,407.0L659.0,409.0L656.0,404.0L650.0,402.0L641.0,404.0L634.0,407.0L627.0,408.0L621.0,410.6L616.0,410.0Z" fill="#2c7fb8" /><path d="M667.4,432.4L670.0,426.0L676.6,426.0L675.0,430.0L671.0,432.6Z" fill="#2c7fb8" /><path d="M739.4,409.4L741.4,411.0L742.6,416.0L746.4,417.4L743.0,420.0L738.0,424.0L733.0,427.4L732.0,425.4L735.0,422.0L739.0,418.0L739.4,414.0Z" fill="#41b6c4" /><path d="M705.4,438.6L709.0,436.0L717.0,432.0L725.0,427.4L729.0,425.0L731.0,426.6L728.0,430.0L719.0,435.0L712.0,439.4L708.0,440.6Z" fill="#41b6c4" /><path d="M743.4,357.4L745.0,357.8L745.0,362.0L743.8,361.6Z" fill="#41b6c4" /><path d="M734.6,372.0L736.2,371.4L740.2,376.6L739.0,377.6Z" fill="#f0f0f0" stroke="#ccc" stroke-width="0.3"/><circle cx="222.4" cy="274.3" r="0.55" fill="#2c7fb8" opacity="0.8"/><circle cx="222.5" cy="278.5" r="0.55" fill="#2c7fb8" opacity="0.8"/><circle cx="223.5" cy="282.6" r="0.55" fill="#2c7fb8" opacity="0.8"/><circle cx="222.4" cy="284.5" r="0.55" fill="#2c7fb8" opacity="0.8"/><circle cx="226.4" cy="284.5" r="0.55" fill="#2c7fb8" opacity="0.8"/><circle cx="221.5" cy="287.5" r="0.55" fill="#2c7fb8" opacity="0.8"/><circle cx="222.6" cy="291.6" r="0.55" fill="#2c7fb8" opacity="0.8"/>
<!-- 60_borders.py -->
<g clip-path="url(#cea)"><path class="bd" d="M360.5,205.8L364.0,207.2L368.0,208.2"/><path class="bd" d="M376.5,180.0L376.5,182.0L375.5,184.5L375.5,186.0L376.0,190.0"/><path class="bd" d="M371.5,184.2L375.5,184.8"/><path class="bd" d="M378.5,195.5L382.0,195.0L384.0,196.5"/><path class="bd" d="M397.5,193.5L400.0,194.0L404.0,193.2L408.0,193.2"/><path class="bd" d="M397.5,193.5L398.0,195.0L396.5,197.5L396.0,197.8"/><path class="bd" d="M392.0,198.2L396.0,197.8L396.0,199.5"/><path class="bd" d="M406.0,169.8L410.0,169.0L415.0,169.5"/><path class="bd" d="M403.5,174.5L410.0,173.5L416.5,174.0L414.0,176.0L412.5,178.0L410.0,179.5L406.0,177.5L403.0,177.0"/><path class="bd" d="M401.0,176.2L403.5,175.8L406.0,177.5"/><path class="bd" d="M416.5,174.0L421.5,174.5L423.5,178.0L426.5,180.5L424.5,182.0L425.0,183.5"/><path class="bd" d="M410.0,179.5L409.5,182.0L410.0,185.0"/><path class="bd" d="M455.5,211.8L459.5,211.2L461.5,214.0L463.5,217.0"/><path class="bd" d="M459.5,209.5L460.5,211.2L459.5,211.2"/><path class="bd" d="M440.0,242.5L443.5,243.0L446.5,240.0L445.5,237.0L447.5,235.5"/><path class="bd" d="M455.8,239.2L459.0,240.0L463.0,243.0L467.0,243.0L469.5,244.0"/><path class="bd" d="M469.5,243.0L468.3,239.2"/><path class="bd" d="M461.0,274.0L465.0,273.5L469.0,274.0L472.0,271.5L475.0,270.0L482.0,269.5L485.0,268.0"/><path class="bd" d="M485.0,268.0L487.5,266.5L488.5,262.0L487.5,259.0L485.0,259.5L481.0,259.0L479.5,255.5"/><path class="bd" d="M441.5,234.5L445.0,234.2"/><path class="bd" d="M495.0,224.5L495.5,229.0L495.0,233.0L497.0,237.0L499.0,239.5L498.0,242.0L500.5,243.0L506.5,242.5L509.5,240.5L510.0,237.5L514.0,236.0L515.5,233.0L517.0,230.0L518.0,227.0L517.5,224.0L519.0,223.0"/><path class="bd" d="M498.0,242.0L500.0,243.0L503.0,243.0L504.5,248.5L502.5,250.0L501.0,253.0"/><path class="bd" d="M540.0,191.4L542.0,194.0L546.0,197.0L550.0,201.0L558.0,203.0L568.0,207.0L578.0,209.0L586.0,209.0L594.0,206.0L596.0,203.0L598.0,200.0L604.0,198.0L608.0,197.0L604.0,194.0L600.0,192.0L598.0,188.6"/><path class="bd" d="M541.0,242.0L542.5,240.0L545.0,240.5L550.0,243.5L556.0,246.0L560.0,246.5L560.5,250.2"/><path class="bd" d="M561.2,249.0L561.2,246.5L564.0,245.0L568.5,246.2L569.0,248.5"/><path class="bd" d="M580.0,245.0L583.0,247.0L584.5,250.0L582.5,253.0L582.5,256.0L586.0,259.0L588.0,261.5L590.5,262.5L592.5,262.5"/><path class="bd" d="M480.5,210.0L482.5,210.0L485.0,207.5L488.0,208.0L491.0,210.5L495.0,212.0L499.0,214.5L503.0,218.0L506.0,219.5"/><path class="bd" d="M507.5,216.0L509.5,214.0L511.5,215.0L515.0,216.2L518.0,216.2L521.0,215.5"/><path class="bd" d="M590.0,289.0L591.5,287.0L593.0,284.0"/><path class="bd" d="M441.7,222.9L445.8,222.5L450.0,222.1L455.0,221.7L458.8,220.8"/><path class="bd" d="M457.9,216.2L458.3,218.8L458.8,220.8L460.4,223.3L462.9,226.7L462.1,230.0L464.2,232.5L467.5,235.4L468.3,239.2"/><path class="bd" d="M453.8,222.1L452.9,225.8L450.0,229.2L448.3,231.7L444.2,234.2L448.3,235.4L451.7,236.7L455.8,239.2"/><path class="bd" d="M442.1,226.7L441.2,229.2L440.7,233.3L441.0,236.7L440.0,240.0"/></g><g clip-path="url(#cna)"><path class="bd" d="M160.5,271.5L161.5,272.5L162.0,276.2"/></g></g></svg>
<div class="lg" style="left:268.7px;top:498.5px;">No data</div>
<div class="lg" style="left:370.5px;top:498.5px;">2.5%</div>
<div class="lg" style="left:429.1px;top:498.5px;">3%</div>
<div class="lg" style="left:487.7px;top:498.5px;">3.5%</div>
<div class="lg" style="left:546.3px;top:498.5px;">4%</div>
<div class="ft" style="left:16.5px;top:549px;letter-spacing:-0.13px"><b style="letter-spacing:-0.6px">Data source:</b> IHME, Global Burden of Disease (2025)</div>
<div class="ft" id="ftr" style="right:19px;top:549px;">OurWorldinData.org/mental-health | CC BY</div>
<div class="ft" style="left:16.5px;top:568.8px;letter-spacing:-0.09px"><b style="letter-spacing:-0.28px">Note:</b> To allow for comparisons between countries and over time, this metric is age-standardized.</div>
</body></html>
